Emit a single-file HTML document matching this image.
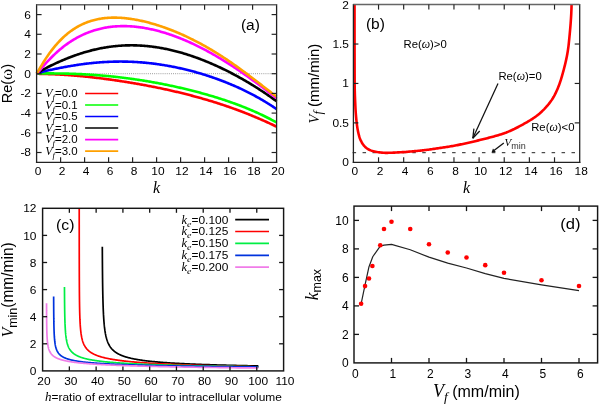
<!DOCTYPE html>
<html><head><meta charset="utf-8"><style>
html,body{margin:0;padding:0;background:#fff;width:599px;height:404px;overflow:hidden;font-family:"Liberation Sans",sans-serif;}
svg{display:block;will-change:transform;}
</style></head><body>
<svg width="599" height="404" viewBox="0 0 599 404">
<rect width="599" height="404" fill="#fff"/>
<line x1="36.6" y1="73.7" x2="276.6" y2="73.7" stroke="#777" stroke-width="0.8" stroke-dasharray="0.9 1.2"/>
<path d="M36.6,73.7 L37.6,73.79 L38.6,73.82 L39.6,73.84 L40.6,73.87 L41.6,73.89 L42.6,73.91 L43.6,73.93 L44.6,73.96 L45.6,73.99 L46.6,74.01 L47.6,74.04 L48.6,74.08 L49.6,74.11 L50.6,74.15 L51.6,74.18 L52.6,74.22 L53.6,74.27 L54.6,74.31 L55.6,74.36 L56.6,74.4 L57.6,74.46 L58.6,74.51 L59.6,74.56 L60.6,74.62 L61.6,74.68 L62.6,74.74 L63.6,74.8 L64.6,74.86 L65.6,74.93 L66.6,75 L67.6,75.07 L68.6,75.14 L69.6,75.21 L70.6,75.29 L71.6,75.36 L72.6,75.44 L73.6,75.52 L74.6,75.61 L75.6,75.69 L76.6,75.78 L77.6,75.86 L78.6,75.95 L79.6,76.05 L80.6,76.14 L81.6,76.23 L82.6,76.33 L83.6,76.43 L84.6,76.53 L85.6,76.63 L86.6,76.73 L87.6,76.83 L88.6,76.94 L89.6,77.05 L90.6,77.16 L91.6,77.27 L92.6,77.38 L93.6,77.49 L94.6,77.61 L95.6,77.72 L96.6,77.84 L97.6,77.96 L98.6,78.08 L99.6,78.2 L100.6,78.33 L101.6,78.45 L102.6,78.58 L103.6,78.71 L104.6,78.84 L105.6,78.97 L106.6,79.1 L107.6,79.24 L108.6,79.37 L109.6,79.51 L110.6,79.64 L111.6,79.78 L112.6,79.92 L113.6,80.07 L114.6,80.21 L115.6,80.36 L116.6,80.5 L117.6,80.65 L118.6,80.8 L119.6,80.95 L120.6,81.1 L121.6,81.25 L122.6,81.41 L123.6,81.56 L124.6,81.72 L125.6,81.88 L126.6,82.04 L127.6,82.2 L128.6,82.36 L129.6,82.53 L130.6,82.69 L131.6,82.86 L132.6,83.03 L133.6,83.2 L134.6,83.37 L135.6,83.54 L136.6,83.71 L137.6,83.89 L138.6,84.06 L139.6,84.24 L140.6,84.42 L141.6,84.6 L142.6,84.78 L143.6,84.97 L144.6,85.15 L145.6,85.34 L146.6,85.53 L147.6,85.72 L148.6,85.91 L149.6,86.1 L150.6,86.29 L151.6,86.49 L152.6,86.68 L153.6,86.88 L154.6,87.08 L155.6,87.28 L156.6,87.49 L157.6,87.69 L158.6,87.9 L159.6,88.1 L160.6,88.31 L161.6,88.52 L162.6,88.73 L163.6,88.95 L164.6,89.16 L165.6,89.38 L166.6,89.6 L167.6,89.82 L168.6,90.04 L169.6,90.26 L170.6,90.49 L171.6,90.71 L172.6,90.94 L173.6,91.17 L174.6,91.4 L175.6,91.64 L176.6,91.87 L177.6,92.11 L178.6,92.35 L179.6,92.59 L180.6,92.83 L181.6,93.07 L182.6,93.32 L183.6,93.57 L184.6,93.82 L185.6,94.07 L186.6,94.32 L187.6,94.58 L188.6,94.83 L189.6,95.09 L190.6,95.35 L191.6,95.62 L192.6,95.88 L193.6,96.15 L194.6,96.42 L195.6,96.69 L196.6,96.96 L197.6,97.23 L198.6,97.51 L199.6,97.79 L200.6,98.07 L201.6,98.35 L202.6,98.64 L203.6,98.92 L204.6,99.21 L205.6,99.51 L206.6,99.8 L207.6,100.1 L208.6,100.39 L209.6,100.69 L210.6,101 L211.6,101.3 L212.6,101.61 L213.6,101.92 L214.6,102.23 L215.6,102.54 L216.6,102.86 L217.6,103.18 L218.6,103.5 L219.6,103.82 L220.6,104.15 L221.6,104.47 L222.6,104.81 L223.6,105.14 L224.6,105.47 L225.6,105.81 L226.6,106.15 L227.6,106.49 L228.6,106.84 L229.6,107.19 L230.6,107.54 L231.6,107.89 L232.6,108.25 L233.6,108.61 L234.6,108.97 L235.6,109.33 L236.6,109.7 L237.6,110.06 L238.6,110.44 L239.6,110.81 L240.6,111.19 L241.6,111.57 L242.6,111.95 L243.6,112.33 L244.6,112.72 L245.6,113.11 L246.6,113.51 L247.6,113.9 L248.6,114.3 L249.6,114.7 L250.6,115.11 L251.6,115.52 L252.6,115.93 L253.6,116.34 L254.6,116.76 L255.6,117.18 L256.6,117.6 L257.6,118.03 L258.6,118.45 L259.6,118.88 L260.6,119.32 L261.6,119.76 L262.6,120.2 L263.6,120.64 L264.6,121.09 L265.6,121.54 L266.6,121.99 L267.6,122.45 L268.6,122.9 L269.6,123.37 L270.6,123.83 L271.6,124.3 L272.6,124.77 L273.6,125.25 L274.6,125.72 L275.6,126.21 L276.6,126.69" fill="none" stroke="red" stroke-width="2.6" stroke-linejoin="round"/>
<path d="M36.6,73.7 L37.6,73.58 L38.6,73.54 L39.6,73.51 L40.6,73.48 L41.6,73.47 L42.6,73.45 L43.6,73.44 L44.6,73.43 L45.6,73.42 L46.6,73.42 L47.6,73.41 L48.6,73.41 L49.6,73.41 L50.6,73.41 L51.6,73.41 L52.6,73.42 L53.6,73.42 L54.6,73.43 L55.6,73.44 L56.6,73.45 L57.6,73.46 L58.6,73.47 L59.6,73.48 L60.6,73.5 L61.6,73.51 L62.6,73.53 L63.6,73.55 L64.6,73.57 L65.6,73.6 L66.6,73.62 L67.6,73.65 L68.6,73.67 L69.6,73.7 L70.6,73.73 L71.6,73.76 L72.6,73.8 L73.6,73.83 L74.6,73.87 L75.6,73.91 L76.6,73.95 L77.6,73.99 L78.6,74.03 L79.6,74.08 L80.6,74.12 L81.6,74.17 L82.6,74.22 L83.6,74.27 L84.6,74.33 L85.6,74.38 L86.6,74.44 L87.6,74.5 L88.6,74.56 L89.6,74.62 L90.6,74.68 L91.6,74.75 L92.6,74.81 L93.6,74.88 L94.6,74.95 L95.6,75.03 L96.6,75.1 L97.6,75.18 L98.6,75.25 L99.6,75.33 L100.6,75.42 L101.6,75.5 L102.6,75.58 L103.6,75.67 L104.6,75.76 L105.6,75.85 L106.6,75.94 L107.6,76.04 L108.6,76.13 L109.6,76.23 L110.6,76.33 L111.6,76.43 L112.6,76.53 L113.6,76.64 L114.6,76.75 L115.6,76.86 L116.6,76.97 L117.6,77.08 L118.6,77.19 L119.6,77.31 L120.6,77.43 L121.6,77.55 L122.6,77.67 L123.6,77.79 L124.6,77.92 L125.6,78.04 L126.6,78.17 L127.6,78.3 L128.6,78.44 L129.6,78.57 L130.6,78.71 L131.6,78.85 L132.6,78.99 L133.6,79.13 L134.6,79.27 L135.6,79.42 L136.6,79.56 L137.6,79.71 L138.6,79.87 L139.6,80.02 L140.6,80.17 L141.6,80.33 L142.6,80.49 L143.6,80.65 L144.6,80.81 L145.6,80.97 L146.6,81.14 L147.6,81.31 L148.6,81.48 L149.6,81.65 L150.6,81.82 L151.6,82 L152.6,82.17 L153.6,82.35 L154.6,82.53 L155.6,82.71 L156.6,82.9 L157.6,83.08 L158.6,83.27 L159.6,83.46 L160.6,83.65 L161.6,83.85 L162.6,84.04 L163.6,84.24 L164.6,84.44 L165.6,84.64 L166.6,84.84 L167.6,85.04 L168.6,85.25 L169.6,85.46 L170.6,85.67 L171.6,85.88 L172.6,86.09 L173.6,86.31 L174.6,86.53 L175.6,86.75 L176.6,86.97 L177.6,87.19 L178.6,87.42 L179.6,87.64 L180.6,87.87 L181.6,88.1 L182.6,88.34 L183.6,88.57 L184.6,88.81 L185.6,89.05 L186.6,89.29 L187.6,89.53 L188.6,89.78 L189.6,90.02 L190.6,90.27 L191.6,90.53 L192.6,90.78 L193.6,91.03 L194.6,91.29 L195.6,91.55 L196.6,91.81 L197.6,92.08 L198.6,92.34 L199.6,92.61 L200.6,92.88 L201.6,93.16 L202.6,93.43 L203.6,93.71 L204.6,93.99 L205.6,94.27 L206.6,94.55 L207.6,94.84 L208.6,95.13 L209.6,95.42 L210.6,95.72 L211.6,96.01 L212.6,96.31 L213.6,96.61 L214.6,96.92 L215.6,97.22 L216.6,97.53 L217.6,97.84 L218.6,98.16 L219.6,98.48 L220.6,98.8 L221.6,99.12 L222.6,99.44 L223.6,99.77 L224.6,100.1 L225.6,100.44 L226.6,100.78 L227.6,101.12 L228.6,101.46 L229.6,101.8 L230.6,102.15 L231.6,102.51 L232.6,102.86 L233.6,103.22 L234.6,103.58 L235.6,103.95 L236.6,104.32 L237.6,104.69 L238.6,105.07 L239.6,105.44 L240.6,105.83 L241.6,106.21 L242.6,106.6 L243.6,107 L244.6,107.39 L245.6,107.8 L246.6,108.2 L247.6,108.61 L248.6,109.02 L249.6,109.44 L250.6,109.86 L251.6,110.29 L252.6,110.72 L253.6,111.15 L254.6,111.59 L255.6,112.03 L256.6,112.48 L257.6,112.93 L258.6,113.39 L259.6,113.85 L260.6,114.32 L261.6,114.79 L262.6,115.26 L263.6,115.74 L264.6,116.23 L265.6,116.72 L266.6,117.22 L267.6,117.72 L268.6,118.22 L269.6,118.74 L270.6,119.25 L271.6,119.78 L272.6,120.31 L273.6,120.84 L274.6,121.38 L275.6,121.93 L276.6,122.48" fill="none" stroke="#00ff00" stroke-width="2.6" stroke-linejoin="round"/>
<path d="M36.6,73.7 L37.6,73.15 L38.6,72.82 L39.6,72.53 L40.6,72.25 L41.6,71.99 L42.6,71.74 L43.6,71.49 L44.6,71.25 L45.6,71.01 L46.6,70.78 L47.6,70.55 L48.6,70.32 L49.6,70.1 L50.6,69.88 L51.6,69.66 L52.6,69.44 L53.6,69.23 L54.6,69.02 L55.6,68.81 L56.6,68.61 L57.6,68.4 L58.6,68.2 L59.6,68 L60.6,67.81 L61.6,67.62 L62.6,67.42 L63.6,67.24 L64.6,67.05 L65.6,66.87 L66.6,66.69 L67.6,66.51 L68.6,66.33 L69.6,66.16 L70.6,65.99 L71.6,65.82 L72.6,65.66 L73.6,65.49 L74.6,65.34 L75.6,65.18 L76.6,65.03 L77.6,64.88 L78.6,64.73 L79.6,64.58 L80.6,64.44 L81.6,64.3 L82.6,64.17 L83.6,64.04 L84.6,63.91 L85.6,63.78 L86.6,63.66 L87.6,63.54 L88.6,63.43 L89.6,63.31 L90.6,63.2 L91.6,63.1 L92.6,63 L93.6,62.9 L94.6,62.8 L95.6,62.71 L96.6,62.62 L97.6,62.54 L98.6,62.45 L99.6,62.38 L100.6,62.3 L101.6,62.23 L102.6,62.16 L103.6,62.1 L104.6,62.04 L105.6,61.98 L106.6,61.93 L107.6,61.88 L108.6,61.83 L109.6,61.79 L110.6,61.75 L111.6,61.72 L112.6,61.69 L113.6,61.66 L114.6,61.63 L115.6,61.61 L116.6,61.6 L117.6,61.59 L118.6,61.58 L119.6,61.57 L120.6,61.57 L121.6,61.57 L122.6,61.58 L123.6,61.59 L124.6,61.6 L125.6,61.62 L126.6,61.64 L127.6,61.67 L128.6,61.7 L129.6,61.73 L130.6,61.77 L131.6,61.81 L132.6,61.85 L133.6,61.9 L134.6,61.95 L135.6,62.01 L136.6,62.07 L137.6,62.13 L138.6,62.19 L139.6,62.27 L140.6,62.34 L141.6,62.42 L142.6,62.5 L143.6,62.59 L144.6,62.67 L145.6,62.77 L146.6,62.86 L147.6,62.97 L148.6,63.07 L149.6,63.18 L150.6,63.29 L151.6,63.41 L152.6,63.52 L153.6,63.65 L154.6,63.77 L155.6,63.91 L156.6,64.04 L157.6,64.18 L158.6,64.32 L159.6,64.46 L160.6,64.61 L161.6,64.77 L162.6,64.92 L163.6,65.08 L164.6,65.25 L165.6,65.41 L166.6,65.58 L167.6,65.76 L168.6,65.94 L169.6,66.12 L170.6,66.31 L171.6,66.49 L172.6,66.69 L173.6,66.88 L174.6,67.08 L175.6,67.29 L176.6,67.5 L177.6,67.71 L178.6,67.92 L179.6,68.14 L180.6,68.36 L181.6,68.59 L182.6,68.82 L183.6,69.05 L184.6,69.29 L185.6,69.53 L186.6,69.77 L187.6,70.02 L188.6,70.27 L189.6,70.53 L190.6,70.78 L191.6,71.05 L192.6,71.31 L193.6,71.58 L194.6,71.86 L195.6,72.13 L196.6,72.41 L197.6,72.7 L198.6,72.99 L199.6,73.28 L200.6,73.57 L201.6,73.87 L202.6,74.18 L203.6,74.48 L204.6,74.79 L205.6,75.11 L206.6,75.43 L207.6,75.75 L208.6,76.07 L209.6,76.4 L210.6,76.74 L211.6,77.08 L212.6,77.42 L213.6,77.76 L214.6,78.11 L215.6,78.46 L216.6,78.82 L217.6,79.18 L218.6,79.55 L219.6,79.92 L220.6,80.29 L221.6,80.67 L222.6,81.05 L223.6,81.44 L224.6,81.83 L225.6,82.22 L226.6,82.62 L227.6,83.02 L228.6,83.43 L229.6,83.84 L230.6,84.26 L231.6,84.68 L232.6,85.11 L233.6,85.54 L234.6,85.97 L235.6,86.41 L236.6,86.85 L237.6,87.3 L238.6,87.76 L239.6,88.21 L240.6,88.68 L241.6,89.14 L242.6,89.62 L243.6,90.09 L244.6,90.58 L245.6,91.07 L246.6,91.56 L247.6,92.06 L248.6,92.56 L249.6,93.07 L250.6,93.59 L251.6,94.11 L252.6,94.63 L253.6,95.16 L254.6,95.7 L255.6,96.24 L256.6,96.79 L257.6,97.35 L258.6,97.91 L259.6,98.47 L260.6,99.05 L261.6,99.63 L262.6,100.21 L263.6,100.8 L264.6,101.4 L265.6,102.01 L266.6,102.62 L267.6,103.24 L268.6,103.86 L269.6,104.5 L270.6,105.14 L271.6,105.78 L272.6,106.44 L273.6,107.1 L274.6,107.77 L275.6,108.44 L276.6,109.12" fill="none" stroke="blue" stroke-width="2.6" stroke-linejoin="round"/>
<path d="M36.6,73.7 L37.6,72.84 L38.6,72.2 L39.6,71.6 L40.6,71.02 L41.6,70.46 L42.6,69.91 L43.6,69.37 L44.6,68.83 L45.6,68.31 L46.6,67.79 L47.6,67.28 L48.6,66.77 L49.6,66.27 L50.6,65.77 L51.6,65.29 L52.6,64.8 L53.6,64.33 L54.6,63.85 L55.6,63.39 L56.6,62.93 L57.6,62.47 L58.6,62.02 L59.6,61.58 L60.6,61.14 L61.6,60.7 L62.6,60.27 L63.6,59.85 L64.6,59.43 L65.6,59.02 L66.6,58.62 L67.6,58.22 L68.6,57.82 L69.6,57.43 L70.6,57.05 L71.6,56.67 L72.6,56.3 L73.6,55.93 L74.6,55.57 L75.6,55.22 L76.6,54.87 L77.6,54.53 L78.6,54.19 L79.6,53.86 L80.6,53.53 L81.6,53.22 L82.6,52.9 L83.6,52.6 L84.6,52.3 L85.6,52 L86.6,51.71 L87.6,51.43 L88.6,51.16 L89.6,50.89 L90.6,50.62 L91.6,50.37 L92.6,50.11 L93.6,49.87 L94.6,49.63 L95.6,49.4 L96.6,49.17 L97.6,48.96 L98.6,48.74 L99.6,48.54 L100.6,48.34 L101.6,48.14 L102.6,47.96 L103.6,47.77 L104.6,47.6 L105.6,47.43 L106.6,47.27 L107.6,47.12 L108.6,46.97 L109.6,46.83 L110.6,46.69 L111.6,46.56 L112.6,46.44 L113.6,46.32 L114.6,46.21 L115.6,46.11 L116.6,46.01 L117.6,45.92 L118.6,45.83 L119.6,45.76 L120.6,45.69 L121.6,45.62 L122.6,45.56 L123.6,45.51 L124.6,45.46 L125.6,45.42 L126.6,45.39 L127.6,45.36 L128.6,45.34 L129.6,45.33 L130.6,45.32 L131.6,45.32 L132.6,45.32 L133.6,45.34 L134.6,45.35 L135.6,45.38 L136.6,45.41 L137.6,45.44 L138.6,45.48 L139.6,45.53 L140.6,45.59 L141.6,45.65 L142.6,45.71 L143.6,45.79 L144.6,45.87 L145.6,45.95 L146.6,46.04 L147.6,46.14 L148.6,46.24 L149.6,46.35 L150.6,46.46 L151.6,46.58 L152.6,46.71 L153.6,46.84 L154.6,46.98 L155.6,47.13 L156.6,47.28 L157.6,47.43 L158.6,47.59 L159.6,47.76 L160.6,47.93 L161.6,48.11 L162.6,48.29 L163.6,48.48 L164.6,48.68 L165.6,48.88 L166.6,49.09 L167.6,49.3 L168.6,49.52 L169.6,49.74 L170.6,49.97 L171.6,50.2 L172.6,50.44 L173.6,50.68 L174.6,50.93 L175.6,51.19 L176.6,51.45 L177.6,51.71 L178.6,51.99 L179.6,52.26 L180.6,52.54 L181.6,52.83 L182.6,53.12 L183.6,53.42 L184.6,53.72 L185.6,54.03 L186.6,54.34 L187.6,54.65 L188.6,54.98 L189.6,55.3 L190.6,55.63 L191.6,55.97 L192.6,56.31 L193.6,56.66 L194.6,57.01 L195.6,57.37 L196.6,57.73 L197.6,58.09 L198.6,58.46 L199.6,58.84 L200.6,59.22 L201.6,59.6 L202.6,59.99 L203.6,60.38 L204.6,60.78 L205.6,61.18 L206.6,61.59 L207.6,62 L208.6,62.42 L209.6,62.84 L210.6,63.27 L211.6,63.7 L212.6,64.13 L213.6,64.57 L214.6,65.02 L215.6,65.46 L216.6,65.92 L217.6,66.37 L218.6,66.84 L219.6,67.3 L220.6,67.77 L221.6,68.25 L222.6,68.73 L223.6,69.21 L224.6,69.7 L225.6,70.19 L226.6,70.69 L227.6,71.19 L228.6,71.69 L229.6,72.2 L230.6,72.72 L231.6,73.24 L232.6,73.76 L233.6,74.29 L234.6,74.82 L235.6,75.36 L236.6,75.9 L237.6,76.44 L238.6,76.99 L239.6,77.54 L240.6,78.1 L241.6,78.67 L242.6,79.23 L243.6,79.8 L244.6,80.38 L245.6,80.96 L246.6,81.54 L247.6,82.13 L248.6,82.73 L249.6,83.33 L250.6,83.93 L251.6,84.54 L252.6,85.15 L253.6,85.77 L254.6,86.39 L255.6,87.01 L256.6,87.64 L257.6,88.28 L258.6,88.92 L259.6,89.57 L260.6,90.22 L261.6,90.87 L262.6,91.53 L263.6,92.19 L264.6,92.86 L265.6,93.54 L266.6,94.22 L267.6,94.9 L268.6,95.59 L269.6,96.29 L270.6,96.99 L271.6,97.69 L272.6,98.4 L273.6,99.12 L274.6,99.84 L275.6,100.57 L276.6,101.3" fill="none" stroke="black" stroke-width="2.6" stroke-linejoin="round"/>
<path d="M36.6,73.7 L37.6,72.9 L38.6,71.75 L39.6,70.57 L40.6,69.38 L41.6,68.2 L42.6,67.02 L43.6,65.87 L44.6,64.72 L45.6,63.6 L46.6,62.49 L47.6,61.4 L48.6,60.33 L49.6,59.28 L50.6,58.25 L51.6,57.24 L52.6,56.24 L53.6,55.27 L54.6,54.32 L55.6,53.38 L56.6,52.47 L57.6,51.57 L58.6,50.7 L59.6,49.84 L60.6,49 L61.6,48.18 L62.6,47.38 L63.6,46.59 L64.6,45.83 L65.6,45.08 L66.6,44.35 L67.6,43.63 L68.6,42.94 L69.6,42.26 L70.6,41.6 L71.6,40.95 L72.6,40.32 L73.6,39.71 L74.6,39.11 L75.6,38.53 L76.6,37.97 L77.6,37.42 L78.6,36.88 L79.6,36.36 L80.6,35.86 L81.6,35.37 L82.6,34.89 L83.6,34.43 L84.6,33.99 L85.6,33.56 L86.6,33.14 L87.6,32.74 L88.6,32.34 L89.6,31.97 L90.6,31.6 L91.6,31.25 L92.6,30.92 L93.6,30.59 L94.6,30.28 L95.6,29.98 L96.6,29.69 L97.6,29.42 L98.6,29.15 L99.6,28.9 L100.6,28.66 L101.6,28.44 L102.6,28.22 L103.6,28.02 L104.6,27.82 L105.6,27.64 L106.6,27.47 L107.6,27.31 L108.6,27.16 L109.6,27.02 L110.6,26.89 L111.6,26.77 L112.6,26.66 L113.6,26.56 L114.6,26.48 L115.6,26.4 L116.6,26.33 L117.6,26.27 L118.6,26.22 L119.6,26.18 L120.6,26.15 L121.6,26.13 L122.6,26.12 L123.6,26.12 L124.6,26.12 L125.6,26.14 L126.6,26.16 L127.6,26.19 L128.6,26.23 L129.6,26.28 L130.6,26.34 L131.6,26.41 L132.6,26.48 L133.6,26.57 L134.6,26.66 L135.6,26.76 L136.6,26.86 L137.6,26.98 L138.6,27.1 L139.6,27.23 L140.6,27.37 L141.6,27.51 L142.6,27.66 L143.6,27.83 L144.6,27.99 L145.6,28.17 L146.6,28.35 L147.6,28.54 L148.6,28.74 L149.6,28.94 L150.6,29.15 L151.6,29.37 L152.6,29.59 L153.6,29.82 L154.6,30.06 L155.6,30.31 L156.6,30.56 L157.6,30.82 L158.6,31.08 L159.6,31.35 L160.6,31.63 L161.6,31.91 L162.6,32.2 L163.6,32.5 L164.6,32.8 L165.6,33.11 L166.6,33.43 L167.6,33.75 L168.6,34.08 L169.6,34.41 L170.6,34.75 L171.6,35.1 L172.6,35.45 L173.6,35.8 L174.6,36.17 L175.6,36.54 L176.6,36.91 L177.6,37.29 L178.6,37.68 L179.6,38.07 L180.6,38.47 L181.6,38.88 L182.6,39.28 L183.6,39.7 L184.6,40.12 L185.6,40.55 L186.6,40.98 L187.6,41.41 L188.6,41.86 L189.6,42.3 L190.6,42.76 L191.6,43.22 L192.6,43.68 L193.6,44.15 L194.6,44.62 L195.6,45.1 L196.6,45.59 L197.6,46.08 L198.6,46.57 L199.6,47.07 L200.6,47.58 L201.6,48.09 L202.6,48.6 L203.6,49.12 L204.6,49.65 L205.6,50.18 L206.6,50.71 L207.6,51.25 L208.6,51.8 L209.6,52.35 L210.6,52.9 L211.6,53.46 L212.6,54.03 L213.6,54.6 L214.6,55.17 L215.6,55.75 L216.6,56.33 L217.6,56.92 L218.6,57.51 L219.6,58.11 L220.6,58.71 L221.6,59.31 L222.6,59.92 L223.6,60.54 L224.6,61.16 L225.6,61.78 L226.6,62.41 L227.6,63.04 L228.6,63.67 L229.6,64.31 L230.6,64.96 L231.6,65.61 L232.6,66.26 L233.6,66.92 L234.6,67.58 L235.6,68.24 L236.6,68.91 L237.6,69.58 L238.6,70.26 L239.6,70.94 L240.6,71.62 L241.6,72.31 L242.6,73 L243.6,73.7 L244.6,74.4 L245.6,75.1 L246.6,75.8 L247.6,76.51 L248.6,77.23 L249.6,77.94 L250.6,78.66 L251.6,79.39 L252.6,80.11 L253.6,80.84 L254.6,81.57 L255.6,82.31 L256.6,83.05 L257.6,83.79 L258.6,84.53 L259.6,85.28 L260.6,86.03 L261.6,86.78 L262.6,87.53 L263.6,88.29 L264.6,89.05 L265.6,89.81 L266.6,90.58 L267.6,91.34 L268.6,92.11 L269.6,92.88 L270.6,93.66 L271.6,94.43 L272.6,95.21 L273.6,95.99 L274.6,96.77 L275.6,97.55 L276.6,98.33" fill="none" stroke="magenta" stroke-width="2.6" stroke-linejoin="round"/>
<path d="M36.6,73.7 L37.6,72.21 L38.6,70.47 L39.6,68.73 L40.6,67.01 L41.6,65.32 L42.6,63.66 L43.6,62.04 L44.6,60.45 L45.6,58.91 L46.6,57.4 L47.6,55.92 L48.6,54.49 L49.6,53.09 L50.6,51.72 L51.6,50.4 L52.6,49.1 L53.6,47.85 L54.6,46.62 L55.6,45.43 L56.6,44.28 L57.6,43.15 L58.6,42.06 L59.6,41 L60.6,39.98 L61.6,38.98 L62.6,38.01 L63.6,37.07 L64.6,36.16 L65.6,35.28 L66.6,34.43 L67.6,33.6 L68.6,32.81 L69.6,32.03 L70.6,31.29 L71.6,30.56 L72.6,29.87 L73.6,29.2 L74.6,28.55 L75.6,27.92 L76.6,27.32 L77.6,26.74 L78.6,26.19 L79.6,25.65 L80.6,25.14 L81.6,24.64 L82.6,24.17 L83.6,23.72 L84.6,23.28 L85.6,22.87 L86.6,22.47 L87.6,22.09 L88.6,21.74 L89.6,21.39 L90.6,21.07 L91.6,20.76 L92.6,20.47 L93.6,20.2 L94.6,19.94 L95.6,19.69 L96.6,19.46 L97.6,19.25 L98.6,19.05 L99.6,18.87 L100.6,18.7 L101.6,18.54 L102.6,18.4 L103.6,18.27 L104.6,18.15 L105.6,18.04 L106.6,17.95 L107.6,17.87 L108.6,17.8 L109.6,17.75 L110.6,17.7 L111.6,17.67 L112.6,17.64 L113.6,17.63 L114.6,17.63 L115.6,17.64 L116.6,17.65 L117.6,17.68 L118.6,17.72 L119.6,17.77 L120.6,17.82 L121.6,17.89 L122.6,17.96 L123.6,18.05 L124.6,18.14 L125.6,18.24 L126.6,18.35 L127.6,18.47 L128.6,18.59 L129.6,18.72 L130.6,18.86 L131.6,19.01 L132.6,19.17 L133.6,19.33 L134.6,19.5 L135.6,19.68 L136.6,19.87 L137.6,20.06 L138.6,20.26 L139.6,20.46 L140.6,20.67 L141.6,20.89 L142.6,21.12 L143.6,21.35 L144.6,21.59 L145.6,21.83 L146.6,22.08 L147.6,22.34 L148.6,22.6 L149.6,22.87 L150.6,23.14 L151.6,23.42 L152.6,23.71 L153.6,24 L154.6,24.3 L155.6,24.6 L156.6,24.91 L157.6,25.22 L158.6,25.54 L159.6,25.87 L160.6,26.2 L161.6,26.53 L162.6,26.88 L163.6,27.22 L164.6,27.57 L165.6,27.93 L166.6,28.29 L167.6,28.66 L168.6,29.04 L169.6,29.41 L170.6,29.8 L171.6,30.19 L172.6,30.58 L173.6,30.98 L174.6,31.38 L175.6,31.79 L176.6,32.21 L177.6,32.63 L178.6,33.05 L179.6,33.48 L180.6,33.92 L181.6,34.36 L182.6,34.81 L183.6,35.26 L184.6,35.71 L185.6,36.17 L186.6,36.64 L187.6,37.11 L188.6,37.59 L189.6,38.07 L190.6,38.55 L191.6,39.05 L192.6,39.54 L193.6,40.05 L194.6,40.55 L195.6,41.06 L196.6,41.58 L197.6,42.1 L198.6,42.63 L199.6,43.16 L200.6,43.7 L201.6,44.25 L202.6,44.79 L203.6,45.35 L204.6,45.9 L205.6,46.47 L206.6,47.04 L207.6,47.61 L208.6,48.19 L209.6,48.77 L210.6,49.36 L211.6,49.96 L212.6,50.55 L213.6,51.16 L214.6,51.77 L215.6,52.38 L216.6,53 L217.6,53.62 L218.6,54.25 L219.6,54.88 L220.6,55.52 L221.6,56.17 L222.6,56.81 L223.6,57.47 L224.6,58.12 L225.6,58.79 L226.6,59.45 L227.6,60.12 L228.6,60.8 L229.6,61.48 L230.6,62.16 L231.6,62.85 L232.6,63.55 L233.6,64.24 L234.6,64.94 L235.6,65.65 L236.6,66.36 L237.6,67.07 L238.6,67.79 L239.6,68.51 L240.6,69.24 L241.6,69.97 L242.6,70.7 L243.6,71.44 L244.6,72.17 L245.6,72.92 L246.6,73.66 L247.6,74.41 L248.6,75.16 L249.6,75.92 L250.6,76.67 L251.6,77.43 L252.6,78.19 L253.6,78.96 L254.6,79.72 L255.6,80.49 L256.6,81.26 L257.6,82.03 L258.6,82.81 L259.6,83.58 L260.6,84.36 L261.6,85.13 L262.6,85.91 L263.6,86.69 L264.6,87.47 L265.6,88.25 L266.6,89.03 L267.6,89.8 L268.6,90.58 L269.6,91.36 L270.6,92.14 L271.6,92.91 L272.6,93.69 L273.6,94.46 L274.6,95.23 L275.6,96 L276.6,96.77" fill="none" stroke="#ffa000" stroke-width="2.6" stroke-linejoin="round"/>
<line x1="36.6" y1="162.35" x2="276.6" y2="162.35" stroke="#222" stroke-width="1.3" stroke-linecap="square"/>
<line x1="36.6" y1="4.75" x2="36.6" y2="162.35" stroke="#222" stroke-width="1.3" stroke-linecap="square"/>
<line x1="276.6" y1="4.75" x2="276.6" y2="162.35" stroke="#222" stroke-width="1.3" stroke-linecap="square"/>
<line x1="36.6" y1="4.75" x2="276.6" y2="4.75" stroke="#666" stroke-width="1.5" />
<line x1="60.6" y1="162.35" x2="60.6" y2="157.35" stroke="#222" stroke-width="1.1700000000000002" />
<line x1="60.6" y1="4.75" x2="60.6" y2="9.75" stroke="#222" stroke-width="1.1700000000000002" />
<line x1="84.6" y1="162.35" x2="84.6" y2="157.35" stroke="#222" stroke-width="1.1700000000000002" />
<line x1="84.6" y1="4.75" x2="84.6" y2="9.75" stroke="#222" stroke-width="1.1700000000000002" />
<line x1="108.6" y1="162.35" x2="108.6" y2="157.35" stroke="#222" stroke-width="1.1700000000000002" />
<line x1="108.6" y1="4.75" x2="108.6" y2="9.75" stroke="#222" stroke-width="1.1700000000000002" />
<line x1="132.6" y1="162.35" x2="132.6" y2="157.35" stroke="#222" stroke-width="1.1700000000000002" />
<line x1="132.6" y1="4.75" x2="132.6" y2="9.75" stroke="#222" stroke-width="1.1700000000000002" />
<line x1="156.6" y1="162.35" x2="156.6" y2="157.35" stroke="#222" stroke-width="1.1700000000000002" />
<line x1="156.6" y1="4.75" x2="156.6" y2="9.75" stroke="#222" stroke-width="1.1700000000000002" />
<line x1="180.6" y1="162.35" x2="180.6" y2="157.35" stroke="#222" stroke-width="1.1700000000000002" />
<line x1="180.6" y1="4.75" x2="180.6" y2="9.75" stroke="#222" stroke-width="1.1700000000000002" />
<line x1="204.6" y1="162.35" x2="204.6" y2="157.35" stroke="#222" stroke-width="1.1700000000000002" />
<line x1="204.6" y1="4.75" x2="204.6" y2="9.75" stroke="#222" stroke-width="1.1700000000000002" />
<line x1="228.6" y1="162.35" x2="228.6" y2="157.35" stroke="#222" stroke-width="1.1700000000000002" />
<line x1="228.6" y1="4.75" x2="228.6" y2="9.75" stroke="#222" stroke-width="1.1700000000000002" />
<line x1="252.6" y1="162.35" x2="252.6" y2="157.35" stroke="#222" stroke-width="1.1700000000000002" />
<line x1="252.6" y1="4.75" x2="252.6" y2="9.75" stroke="#222" stroke-width="1.1700000000000002" />
<line x1="36.6" y1="152.5" x2="41.6" y2="152.5" stroke="#222" stroke-width="1.1700000000000002" />
<line x1="276.6" y1="152.5" x2="271.6" y2="152.5" stroke="#222" stroke-width="1.1700000000000002" />
<line x1="36.6" y1="132.8" x2="41.6" y2="132.8" stroke="#222" stroke-width="1.1700000000000002" />
<line x1="276.6" y1="132.8" x2="271.6" y2="132.8" stroke="#222" stroke-width="1.1700000000000002" />
<line x1="36.6" y1="113.1" x2="41.6" y2="113.1" stroke="#222" stroke-width="1.1700000000000002" />
<line x1="276.6" y1="113.1" x2="271.6" y2="113.1" stroke="#222" stroke-width="1.1700000000000002" />
<line x1="36.6" y1="93.4" x2="41.6" y2="93.4" stroke="#222" stroke-width="1.1700000000000002" />
<line x1="276.6" y1="93.4" x2="271.6" y2="93.4" stroke="#222" stroke-width="1.1700000000000002" />
<line x1="36.6" y1="73.7" x2="41.6" y2="73.7" stroke="#222" stroke-width="1.1700000000000002" />
<line x1="276.6" y1="73.7" x2="271.6" y2="73.7" stroke="#222" stroke-width="1.1700000000000002" />
<line x1="36.6" y1="54" x2="41.6" y2="54" stroke="#222" stroke-width="1.1700000000000002" />
<line x1="276.6" y1="54" x2="271.6" y2="54" stroke="#222" stroke-width="1.1700000000000002" />
<line x1="36.6" y1="34.3" x2="41.6" y2="34.3" stroke="#222" stroke-width="1.1700000000000002" />
<line x1="276.6" y1="34.3" x2="271.6" y2="34.3" stroke="#222" stroke-width="1.1700000000000002" />
<line x1="36.6" y1="14.6" x2="41.6" y2="14.6" stroke="#222" stroke-width="1.1700000000000002" />
<line x1="276.6" y1="14.6" x2="271.6" y2="14.6" stroke="#222" stroke-width="1.1700000000000002" />
<text transform="translate(38,175.3) scale(1.085,1)" font-size="11" text-anchor="middle" font-family='"Liberation Sans", sans-serif'>0</text>
<text transform="translate(62,175.3) scale(1.085,1)" font-size="11" text-anchor="middle" font-family='"Liberation Sans", sans-serif'>2</text>
<text transform="translate(86,175.3) scale(1.085,1)" font-size="11" text-anchor="middle" font-family='"Liberation Sans", sans-serif'>4</text>
<text transform="translate(110,175.3) scale(1.085,1)" font-size="11" text-anchor="middle" font-family='"Liberation Sans", sans-serif'>6</text>
<text transform="translate(134,175.3) scale(1.085,1)" font-size="11" text-anchor="middle" font-family='"Liberation Sans", sans-serif'>8</text>
<text transform="translate(158,175.3) scale(1.085,1)" font-size="11" text-anchor="middle" font-family='"Liberation Sans", sans-serif'>10</text>
<text transform="translate(182,175.3) scale(1.085,1)" font-size="11" text-anchor="middle" font-family='"Liberation Sans", sans-serif'>12</text>
<text transform="translate(206,175.3) scale(1.085,1)" font-size="11" text-anchor="middle" font-family='"Liberation Sans", sans-serif'>14</text>
<text transform="translate(230,175.3) scale(1.085,1)" font-size="11" text-anchor="middle" font-family='"Liberation Sans", sans-serif'>16</text>
<text transform="translate(254,175.3) scale(1.085,1)" font-size="11" text-anchor="middle" font-family='"Liberation Sans", sans-serif'>18</text>
<text transform="translate(278,175.3) scale(1.085,1)" font-size="11" text-anchor="middle" font-family='"Liberation Sans", sans-serif'>20</text>
<text transform="translate(31,156.4) scale(1.085,1)" font-size="11" text-anchor="end" font-family='"Liberation Sans", sans-serif'>-8</text>
<text transform="translate(31,136.7) scale(1.085,1)" font-size="11" text-anchor="end" font-family='"Liberation Sans", sans-serif'>-6</text>
<text transform="translate(31,117) scale(1.085,1)" font-size="11" text-anchor="end" font-family='"Liberation Sans", sans-serif'>-4</text>
<text transform="translate(31,97.3) scale(1.085,1)" font-size="11" text-anchor="end" font-family='"Liberation Sans", sans-serif'>-2</text>
<text transform="translate(31,77.6) scale(1.085,1)" font-size="11" text-anchor="end" font-family='"Liberation Sans", sans-serif'>0</text>
<text transform="translate(31,57.9) scale(1.085,1)" font-size="11" text-anchor="end" font-family='"Liberation Sans", sans-serif'>2</text>
<text transform="translate(31,38.2) scale(1.085,1)" font-size="11" text-anchor="end" font-family='"Liberation Sans", sans-serif'>4</text>
<text transform="translate(31,18.5) scale(1.085,1)" font-size="11" text-anchor="end" font-family='"Liberation Sans", sans-serif'>6</text>
<line x1="85.1" y1="93.5" x2="118.2" y2="93.5" stroke="red" stroke-width="1.6" />
<text transform="translate(45.2,97.4) scale(1.045,1)" font-size="11" text-anchor="start" font-family='"Liberation Sans", sans-serif'><tspan font-family='"Liberation Serif", serif' font-size="11.5" font-style="italic">V</tspan><tspan font-family='"Liberation Serif", serif' font-size="8.5" font-style="italic" dy="2.6">f</tspan><tspan dy="-2.6">=0.0</tspan></text>
<line x1="85.1" y1="105.02" x2="118.2" y2="105.02" stroke="#00ff00" stroke-width="1.6" />
<text transform="translate(45.2,108.92) scale(1.045,1)" font-size="11" text-anchor="start" font-family='"Liberation Sans", sans-serif'><tspan font-family='"Liberation Serif", serif' font-size="11.5" font-style="italic">V</tspan><tspan font-family='"Liberation Serif", serif' font-size="8.5" font-style="italic" dy="2.6">f</tspan><tspan dy="-2.6">=0.1</tspan></text>
<line x1="85.1" y1="116.54" x2="118.2" y2="116.54" stroke="blue" stroke-width="1.6" />
<text transform="translate(45.2,120.44) scale(1.045,1)" font-size="11" text-anchor="start" font-family='"Liberation Sans", sans-serif'><tspan font-family='"Liberation Serif", serif' font-size="11.5" font-style="italic">V</tspan><tspan font-family='"Liberation Serif", serif' font-size="8.5" font-style="italic" dy="2.6">f</tspan><tspan dy="-2.6">=0.5</tspan></text>
<line x1="85.1" y1="128.06" x2="118.2" y2="128.06" stroke="black" stroke-width="1.6" />
<text transform="translate(45.2,131.96) scale(1.045,1)" font-size="11" text-anchor="start" font-family='"Liberation Sans", sans-serif'><tspan font-family='"Liberation Serif", serif' font-size="11.5" font-style="italic">V</tspan><tspan font-family='"Liberation Serif", serif' font-size="8.5" font-style="italic" dy="2.6">f</tspan><tspan dy="-2.6">=1.0</tspan></text>
<line x1="85.1" y1="139.58" x2="118.2" y2="139.58" stroke="magenta" stroke-width="1.6" />
<text transform="translate(45.2,143.48) scale(1.045,1)" font-size="11" text-anchor="start" font-family='"Liberation Sans", sans-serif'><tspan font-family='"Liberation Serif", serif' font-size="11.5" font-style="italic">V</tspan><tspan font-family='"Liberation Serif", serif' font-size="8.5" font-style="italic" dy="2.6">f</tspan><tspan dy="-2.6">=2.0</tspan></text>
<line x1="85.1" y1="151.1" x2="118.2" y2="151.1" stroke="#ffa000" stroke-width="1.6" />
<text transform="translate(45.2,155) scale(1.045,1)" font-size="11" text-anchor="start" font-family='"Liberation Sans", sans-serif'><tspan font-family='"Liberation Serif", serif' font-size="11.5" font-style="italic">V</tspan><tspan font-family='"Liberation Serif", serif' font-size="8.5" font-style="italic" dy="2.6">f</tspan><tspan dy="-2.6">=3.0</tspan></text>
<text transform="translate(240.9,29.9) scale(1.085,1)" font-size="14.3" text-anchor="start" font-family='"Liberation Sans", sans-serif'>(a)</text>
<text transform="translate(156.6,193.4) scale(1.0,1)" font-size="16" text-anchor="middle" font-family='"Liberation Serif", serif' font-style="italic">k</text>
<text transform="translate(12.2,83.6) scale(1.0,1) rotate(-90)" font-size="14.5" text-anchor="middle" font-family='"Liberation Sans", sans-serif'>Re(<tspan font-family='"Liberation Serif", serif' font-size="17">ω</tspan>)</text>
<line x1="352.6" y1="152.7" x2="576" y2="152.7" stroke="#222" stroke-width="1" stroke-dasharray="3.5 6.45"/>
<clipPath id="cb"><rect x="353.4" y="4.6" width="226.3" height="157.7"/></clipPath>
<path clip-path="url(#cb)" d="M354.53,-0.13 L354.53,1 L354.53,2.14 L354.53,3.28 L354.53,4.41 L354.53,5.55 L354.53,6.68 L354.53,7.82 L354.53,8.95 L354.53,10.09 L354.53,11.23 L354.53,12.36 L354.53,13.5 L354.53,14.63 L354.53,15.77 L354.54,16.9 L354.54,18.04 L354.54,19.18 L354.54,20.31 L354.54,21.45 L354.54,22.58 L354.54,23.72 L354.54,24.85 L354.54,25.99 L354.54,27.12 L354.54,28.26 L354.54,29.39 L354.55,30.53 L354.55,31.67 L354.55,32.8 L354.55,33.94 L354.55,35.07 L354.55,36.21 L354.55,37.34 L354.55,38.48 L354.56,39.61 L354.56,40.75 L354.56,41.88 L354.56,43.02 L354.56,44.15 L354.56,45.29 L354.57,46.43 L354.57,47.56 L354.57,48.7 L354.57,49.83 L354.57,50.97 L354.57,52.1 L354.58,53.24 L354.58,54.37 L354.58,55.51 L354.58,56.64 L354.59,57.78 L354.59,58.91 L354.59,60.05 L354.59,61.18 L354.6,62.32 L354.6,63.45 L354.6,64.59 L354.6,65.72 L354.61,66.86 L354.61,67.99 L354.61,69.13 L354.62,70.26 L354.62,71.4 L354.62,72.53 L354.63,73.67 L354.63,74.8 L354.63,75.94 L354.64,77.07 L354.64,78.21 L354.64,79.34 L354.65,80.48 L354.65,81.61 L354.65,82.75 L354.66,83.88 L354.67,85.02 L354.68,86.15 L354.69,87.29 L354.71,88.43 L354.74,89.56 L354.77,90.7 L354.8,91.83 L354.83,92.97 L354.86,94.1 L354.9,95.24 L354.94,96.37 L354.99,97.51 L355.03,98.64 L355.08,99.78 L355.13,100.91 L355.18,102.05 L355.23,103.18 L355.28,104.31 L355.33,105.45 L355.39,106.58 L355.44,107.71 L355.5,108.85 L355.57,109.98 L355.64,111.12 L355.71,112.25 L355.8,113.39 L355.88,114.52 L355.98,115.65 L356.08,116.79 L356.18,117.92 L356.29,119.05 L356.4,120.18 L356.52,121.3 L356.65,122.43 L356.78,123.55 L356.92,124.68 L357.07,125.81 L357.23,126.94 L357.41,128.08 L357.6,129.21 L357.81,130.34 L358.03,131.47 L358.27,132.59 L358.53,133.69 L358.8,134.79 L359.09,135.87 L359.39,136.93 L359.73,137.99 L360.14,139.06 L360.6,140.13 L361.11,141.19 L361.67,142.22 L362.26,143.22 L362.89,144.18 L363.54,145.07 L364.22,145.9 L364.98,146.71 L365.83,147.5 L366.75,148.24 L367.72,148.92 L368.71,149.51 L369.71,149.99 L370.72,150.37 L371.78,150.73 L372.87,151.06 L373.98,151.36 L375.11,151.62 L376.25,151.85 L377.39,152.05 L378.51,152.2 L379.63,152.34 L380.76,152.48 L381.89,152.6 L383.03,152.7 L384.16,152.78 L385.3,152.83 L386.43,152.84 L387.56,152.83 L388.7,152.81 L389.83,152.78 L390.97,152.74 L392.1,152.7 L393.24,152.65 L394.37,152.59 L395.51,152.54 L396.64,152.47 L397.78,152.41 L398.91,152.35 L400.05,152.29 L401.18,152.23 L402.31,152.16 L403.44,152.09 L404.58,152.01 L405.71,151.93 L406.84,151.84 L407.97,151.75 L409.11,151.65 L410.24,151.56 L411.37,151.46 L412.5,151.36 L413.63,151.26 L414.76,151.16 L415.89,151.05 L417.02,150.94 L418.15,150.83 L419.28,150.71 L420.41,150.59 L421.54,150.47 L422.67,150.34 L423.8,150.21 L424.92,150.08 L426.05,149.95 L427.18,149.81 L428.3,149.67 L429.43,149.52 L430.55,149.37 L431.68,149.21 L432.8,149.05 L433.92,148.88 L435.05,148.72 L436.17,148.55 L437.29,148.38 L438.42,148.21 L439.54,148.04 L440.66,147.87 L441.79,147.7 L442.91,147.54 L444.03,147.37 L445.16,147.2 L446.28,147.03 L447.4,146.86 L448.52,146.69 L449.65,146.51 L450.77,146.33 L451.89,146.14 L453,145.95 L454.12,145.75 L455.23,145.54 L456.35,145.32 L457.46,145.1 L458.57,144.87 L459.68,144.63 L460.79,144.39 L461.9,144.15 L463.01,143.9 L464.12,143.66 L465.23,143.41 L466.34,143.16 L467.45,142.92 L468.56,142.67 L469.66,142.42 L470.77,142.18 L471.88,141.93 L472.99,141.67 L474.09,141.42 L475.2,141.16 L476.3,140.9 L477.41,140.63 L478.51,140.37 L479.61,140.09 L480.71,139.82 L481.82,139.54 L482.92,139.26 L484.02,138.99 L485.13,138.71 L486.23,138.43 L487.34,138.15 L488.44,137.87 L489.55,137.58 L490.65,137.3 L491.75,137.01 L492.85,136.71 L493.95,136.41 L495.05,136.11 L496.14,135.8 L497.23,135.48 L498.32,135.16 L499.41,134.83 L500.49,134.49 L501.56,134.14 L502.63,133.79 L503.7,133.42 L504.76,133.05 L505.82,132.67 L506.87,132.26 L507.92,131.84 L508.97,131.41 L510.01,130.96 L511.05,130.5 L512.09,130.03 L513.12,129.54 L514.15,129.05 L515.18,128.54 L516.2,128.03 L517.22,127.51 L518.23,126.98 L519.23,126.45 L520.24,125.92 L521.23,125.38 L522.22,124.83 L523.21,124.29 L524.2,123.73 L525.2,123.17 L526.2,122.61 L527.19,122.03 L528.18,121.45 L529.17,120.86 L530.16,120.26 L531.14,119.65 L532.1,119.04 L533.06,118.41 L534.01,117.77 L534.95,117.12 L535.87,116.46 L536.77,115.78 L537.66,115.1 L538.52,114.4 L539.37,113.69 L540.2,112.96 L541.03,112.21 L541.85,111.45 L542.67,110.66 L543.48,109.86 L544.29,109.04 L545.08,108.2 L545.87,107.35 L546.65,106.48 L547.41,105.6 L548.15,104.71 L548.88,103.81 L549.59,102.9 L550.28,101.98 L550.95,101.05 L551.6,100.12 L552.22,99.18 L552.82,98.23 L553.39,97.28 L553.94,96.33 L554.47,95.36 L554.98,94.37 L555.49,93.37 L555.99,92.35 L556.47,91.32 L556.94,90.28 L557.4,89.23 L557.84,88.17 L558.28,87.1 L558.7,86.03 L559.11,84.95 L559.5,83.87 L559.88,82.78 L560.25,81.7 L560.61,80.61 L560.95,79.53 L561.28,78.45 L561.6,77.37 L561.91,76.29 L562.22,75.21 L562.53,74.12 L562.83,73.03 L563.14,71.93 L563.43,70.84 L563.73,69.74 L564.02,68.64 L564.3,67.54 L564.58,66.43 L564.86,65.32 L565.13,64.21 L565.39,63.1 L565.65,61.99 L565.9,60.87 L566.15,59.75 L566.39,58.64 L566.62,57.52 L566.84,56.4 L567.06,55.28 L567.27,54.15 L567.46,53.03 L567.66,51.91 L567.84,50.79 L568.01,49.66 L568.17,48.54 L568.32,47.42 L568.47,46.3 L568.6,45.17 L568.72,44.05 L568.84,42.93 L568.95,41.81 L569.07,40.69 L569.18,39.56 L569.29,38.44 L569.4,37.32 L569.51,36.19 L569.62,35.07 L569.73,33.94 L569.83,32.81 L569.94,31.69 L570.04,30.56 L570.14,29.43 L570.24,28.3 L570.33,27.17 L570.43,26.04 L570.52,24.91 L570.61,23.78 L570.69,22.65 L570.77,21.52 L570.85,20.38 L570.93,19.25 L571,18.11 L571.07,16.98 L571.14,15.84 L571.2,14.71 L571.26,13.57 L571.31,12.43 L571.36,11.29 L571.41,10.15 L571.45,9.01 L571.49,7.87 L571.52,6.73 L571.55,5.59 L571.57,4.45 L571.59,3.3 L571.6,2.16 L571.61,1.01 L571.62,-0.13" fill="none" stroke="red" stroke-width="2.6" stroke-linejoin="round"/>
<line x1="353.4" y1="162.3" x2="579.7" y2="162.3" stroke="#222" stroke-width="1.3" stroke-linecap="square"/>
<line x1="353.4" y1="4.6" x2="353.4" y2="162.3" stroke="#222" stroke-width="1.3" stroke-linecap="square"/>
<line x1="579.7" y1="4.6" x2="579.7" y2="162.3" stroke="#222" stroke-width="1.3" stroke-linecap="square"/>
<line x1="353.4" y1="4.6" x2="579.7" y2="4.6" stroke="#666" stroke-width="1.5" />
<line x1="378.54" y1="162.3" x2="378.54" y2="157.3" stroke="#222" stroke-width="1.1700000000000002" />
<line x1="378.54" y1="4.6" x2="378.54" y2="9.6" stroke="#222" stroke-width="1.1700000000000002" />
<line x1="403.68" y1="162.3" x2="403.68" y2="157.3" stroke="#222" stroke-width="1.1700000000000002" />
<line x1="403.68" y1="4.6" x2="403.68" y2="9.6" stroke="#222" stroke-width="1.1700000000000002" />
<line x1="428.82" y1="162.3" x2="428.82" y2="157.3" stroke="#222" stroke-width="1.1700000000000002" />
<line x1="428.82" y1="4.6" x2="428.82" y2="9.6" stroke="#222" stroke-width="1.1700000000000002" />
<line x1="453.96" y1="162.3" x2="453.96" y2="157.3" stroke="#222" stroke-width="1.1700000000000002" />
<line x1="453.96" y1="4.6" x2="453.96" y2="9.6" stroke="#222" stroke-width="1.1700000000000002" />
<line x1="479.1" y1="162.3" x2="479.1" y2="157.3" stroke="#222" stroke-width="1.1700000000000002" />
<line x1="479.1" y1="4.6" x2="479.1" y2="9.6" stroke="#222" stroke-width="1.1700000000000002" />
<line x1="504.24" y1="162.3" x2="504.24" y2="157.3" stroke="#222" stroke-width="1.1700000000000002" />
<line x1="504.24" y1="4.6" x2="504.24" y2="9.6" stroke="#222" stroke-width="1.1700000000000002" />
<line x1="529.38" y1="162.3" x2="529.38" y2="157.3" stroke="#222" stroke-width="1.1700000000000002" />
<line x1="529.38" y1="4.6" x2="529.38" y2="9.6" stroke="#222" stroke-width="1.1700000000000002" />
<line x1="554.52" y1="162.3" x2="554.52" y2="157.3" stroke="#222" stroke-width="1.1700000000000002" />
<line x1="554.52" y1="4.6" x2="554.52" y2="9.6" stroke="#222" stroke-width="1.1700000000000002" />
<line x1="353.4" y1="122.88" x2="358.4" y2="122.88" stroke="#222" stroke-width="1.1700000000000002" />
<line x1="579.7" y1="122.88" x2="574.7" y2="122.88" stroke="#222" stroke-width="1.1700000000000002" />
<line x1="353.4" y1="83.45" x2="358.4" y2="83.45" stroke="#222" stroke-width="1.1700000000000002" />
<line x1="579.7" y1="83.45" x2="574.7" y2="83.45" stroke="#222" stroke-width="1.1700000000000002" />
<line x1="353.4" y1="44.03" x2="358.4" y2="44.03" stroke="#222" stroke-width="1.1700000000000002" />
<line x1="579.7" y1="44.03" x2="574.7" y2="44.03" stroke="#222" stroke-width="1.1700000000000002" />
<text transform="translate(354.9,175.3) scale(1.085,1)" font-size="11" text-anchor="middle" font-family='"Liberation Sans", sans-serif'>0</text>
<text transform="translate(380.04,175.3) scale(1.085,1)" font-size="11" text-anchor="middle" font-family='"Liberation Sans", sans-serif'>2</text>
<text transform="translate(405.18,175.3) scale(1.085,1)" font-size="11" text-anchor="middle" font-family='"Liberation Sans", sans-serif'>4</text>
<text transform="translate(430.32,175.3) scale(1.085,1)" font-size="11" text-anchor="middle" font-family='"Liberation Sans", sans-serif'>6</text>
<text transform="translate(455.46,175.3) scale(1.085,1)" font-size="11" text-anchor="middle" font-family='"Liberation Sans", sans-serif'>8</text>
<text transform="translate(480.6,175.3) scale(1.085,1)" font-size="11" text-anchor="middle" font-family='"Liberation Sans", sans-serif'>10</text>
<text transform="translate(505.74,175.3) scale(1.085,1)" font-size="11" text-anchor="middle" font-family='"Liberation Sans", sans-serif'>12</text>
<text transform="translate(530.88,175.3) scale(1.085,1)" font-size="11" text-anchor="middle" font-family='"Liberation Sans", sans-serif'>14</text>
<text transform="translate(556.02,175.3) scale(1.085,1)" font-size="11" text-anchor="middle" font-family='"Liberation Sans", sans-serif'>16</text>
<text transform="translate(581.16,175.3) scale(1.085,1)" font-size="11" text-anchor="middle" font-family='"Liberation Sans", sans-serif'>18</text>
<text transform="translate(349,166.2) scale(1.085,1)" font-size="11" text-anchor="end" font-family='"Liberation Sans", sans-serif'>0</text>
<text transform="translate(349,126.78) scale(1.085,1)" font-size="11" text-anchor="end" font-family='"Liberation Sans", sans-serif'>0.5</text>
<text transform="translate(349,87.35) scale(1.085,1)" font-size="11" text-anchor="end" font-family='"Liberation Sans", sans-serif'>1</text>
<text transform="translate(349,47.93) scale(1.085,1)" font-size="11" text-anchor="end" font-family='"Liberation Sans", sans-serif'>1.5</text>
<text transform="translate(349,8.5) scale(1.085,1)" font-size="11" text-anchor="end" font-family='"Liberation Sans", sans-serif'>2</text>
<text transform="translate(365.9,29.3) scale(1.085,1)" font-size="14.3" text-anchor="start" font-family='"Liberation Sans", sans-serif'>(b)</text>
<text transform="translate(403.5,48.4) scale(1.03,1)" font-size="11" text-anchor="start" font-family='"Liberation Sans", sans-serif'>Re(<tspan font-family='"Liberation Serif", serif' font-size="11.5" font-style="italic">ω</tspan>)&gt;0</text>
<text transform="translate(498.4,79.6) scale(1.03,1)" font-size="11" text-anchor="start" font-family='"Liberation Sans", sans-serif'>Re(<tspan font-family='"Liberation Serif", serif' font-size="11.5" font-style="italic">ω</tspan>)=0</text>
<text transform="translate(531.2,131) scale(1.03,1)" font-size="11" text-anchor="start" font-family='"Liberation Sans", sans-serif'>Re(<tspan font-family='"Liberation Serif", serif' font-size="11.5" font-style="italic">ω</tspan>)&lt;0</text>
<line x1="498" y1="83.4" x2="472.8" y2="138.3" stroke="#111" stroke-width="1.25" />
<line x1="472.8" y1="138.3" x2="473.9" y2="128.6" stroke="#111" stroke-width="1.25" />
<line x1="472.8" y1="138.3" x2="479.7" y2="131" stroke="#111" stroke-width="1.25" />
<text transform="translate(504.4,145.8) scale(1.0,1)" font-size="11" text-anchor="start" font-family='"Liberation Serif", serif'><tspan font-family='"Liberation Serif", serif' font-size="11" font-style="italic">V</tspan><tspan font-family='"Liberation Sans", sans-serif' font-size="9" dy="3.4" fill="#333">min</tspan></text>
<line x1="503.8" y1="142.9" x2="494" y2="150.4" stroke="#111" stroke-width="1.3" />
<polygon points="491.5,152.6 493,148.6 495.8,151.9" fill="#111"/>
<text transform="translate(466.53,193.4) scale(1.0,1)" font-size="16" text-anchor="middle" font-family='"Liberation Serif", serif' font-style="italic">k</text>
<text transform="translate(318.6,83.6) scale(0.95,1) rotate(-90)" font-size="14.95" text-anchor="middle" font-family='"Liberation Sans", sans-serif'><tspan font-family='"Liberation Serif", serif' font-size="14.5" font-style="italic">V</tspan><tspan font-family='"Liberation Serif", serif' font-size="12.5" font-style="italic" dy="4">f</tspan><tspan dy="-4"> (mm/min)</tspan></text>
<clipPath id="cc"><rect x="42.6" y="208.3" width="241" height="162.6"/></clipPath><g clip-path="url(#cc)">
<path d="M102.32,246.65 L102.32,247.59 L102.32,248.52 L102.33,249.45 L102.33,250.37 L102.34,251.29 L102.34,252.2 L102.35,253.1 L102.35,253.99 L102.36,254.88 L102.36,255.76 L102.37,256.63 L102.37,257.5 L102.38,258.36 L102.39,259.21 L102.39,260.06 L102.4,260.9 L102.4,261.74 L102.41,262.57 L102.42,263.39 L102.42,264.21 L102.43,265.02 L102.43,265.82 L102.44,266.62 L102.45,267.41 L102.45,268.2 L102.46,268.98 L102.47,269.76 L102.47,270.52 L102.48,271.29 L102.49,272.05 L102.5,272.8 L102.5,273.54 L102.51,274.28 L102.52,275.02 L102.53,275.75 L102.53,276.47 L102.54,277.19 L102.55,277.9 L102.56,278.61 L102.57,279.31 L102.58,280.01 L102.58,280.7 L102.59,281.39 L102.6,282.07 L102.61,282.75 L102.62,283.42 L102.63,284.08 L102.64,284.75 L102.65,285.4 L102.66,286.05 L102.67,286.7 L102.68,287.34 L102.69,287.98 L102.7,288.61 L102.71,289.24 L102.72,289.86 L102.73,290.48 L102.74,291.09 L102.76,291.7 L102.77,292.3 L102.78,292.9 L102.79,293.5 L102.8,294.09 L102.82,294.68 L102.83,295.26 L102.84,295.83 L102.85,296.41 L102.87,296.98 L102.88,297.54 L102.89,298.1 L102.91,298.66 L102.92,299.21 L102.94,299.76 L102.95,300.3 L102.96,300.84 L102.98,301.38 L102.99,301.91 L103.01,302.43 L103.03,302.96 L103.04,303.48 L103.06,303.99 L103.07,304.51 L103.09,305.01 L103.11,305.52 L103.12,306.02 L103.14,306.51 L103.16,307.01 L103.18,307.5 L103.2,307.98 L103.21,308.46 L103.23,308.94 L103.25,309.42 L103.27,309.89 L103.29,310.36 L103.31,310.82 L103.33,311.28 L103.35,311.74 L103.37,312.19 L103.4,312.64 L103.42,313.09 L103.44,313.53 L103.46,313.97 L103.48,314.41 L103.51,314.84 L103.53,315.27 L103.56,315.7 L103.58,316.12 L103.6,316.54 L103.63,316.96 L103.66,317.38 L103.68,317.79 L103.71,318.2 L103.73,318.6 L103.76,319 L103.79,319.4 L103.82,319.8 L103.85,320.19 L103.87,320.58 L103.9,320.97 L103.93,321.35 L103.96,321.73 L103.99,322.11 L104.03,322.49 L104.06,322.86 L104.09,323.23 L104.12,323.6 L104.16,323.96 L104.19,324.33 L104.22,324.68 L104.26,325.04 L104.29,325.4 L104.33,325.75 L104.37,326.09 L104.4,326.44 L104.44,326.78 L104.48,327.12 L104.52,327.46 L104.56,327.8 L104.6,328.13 L104.64,328.46 L104.68,328.79 L104.72,329.12 L104.77,329.44 L104.81,329.76 L104.86,330.08 L104.9,330.39 L104.95,330.71 L104.99,331.02 L105.04,331.33 L105.09,331.63 L105.14,331.94 L105.19,332.24 L105.24,332.54 L105.29,332.84 L105.34,333.13 L105.39,333.43 L105.45,333.72 L105.5,334.01 L105.56,334.29 L105.61,334.58 L105.67,334.86 L105.73,335.14 L105.79,335.42 L105.84,335.69 L105.91,335.97 L105.97,336.24 L106.03,336.51 L106.09,336.78 L106.16,337.04 L106.22,337.3 L106.29,337.57 L106.36,337.83 L106.43,338.08 L106.5,338.34 L106.57,338.59 L106.64,338.85 L106.71,339.1 L106.79,339.34 L106.87,339.59 L106.94,339.83 L107.02,340.08 L107.1,340.32 L107.18,340.56 L107.26,340.79 L107.35,341.03 L107.43,341.26 L107.52,341.5 L107.6,341.73 L107.69,341.95 L107.78,342.18 L107.87,342.41 L107.97,342.63 L108.06,342.85 L108.16,343.07 L108.26,343.29 L108.36,343.51 L108.46,343.72 L108.56,343.94 L108.66,344.15 L108.77,344.36 L108.88,344.57 L108.98,344.77 L109.1,344.98 L109.21,345.18 L109.32,345.39 L109.44,345.59 L109.56,345.79 L109.68,345.98 L109.8,346.18 L109.92,346.38 L110.05,346.57 L110.17,346.76 L110.3,346.95 L110.44,347.14 L110.57,347.33 L110.71,347.52 L110.84,347.7 L110.98,347.88 L111.13,348.07 L111.27,348.25 L111.42,348.43 L111.57,348.61 L111.72,348.78 L111.88,348.96 L112.03,349.13 L112.19,349.31 L112.35,349.48 L112.52,349.65 L112.68,349.82 L112.85,349.98 L113.03,350.15 L113.2,350.32 L113.38,350.48 L113.56,350.64 L113.74,350.8 L113.93,350.96 L114.12,351.12 L114.31,351.28 L114.51,351.44 L114.71,351.59 L114.91,351.75 L115.11,351.9 L115.32,352.05 L115.53,352.2 L115.75,352.35 L115.97,352.5 L116.19,352.65 L116.42,352.8 L116.64,352.94 L116.88,353.09 L117.11,353.23 L117.35,353.37 L117.6,353.51 L117.85,353.65 L118.1,353.79 L118.35,353.93 L118.61,354.07 L118.88,354.2 L119.15,354.34 L119.42,354.47 L119.7,354.6 L119.98,354.74 L120.26,354.87 L120.55,355 L120.85,355.13 L121.15,355.25 L121.45,355.38 L121.76,355.51 L122.08,355.63 L122.39,355.76 L122.72,355.88 L123.05,356 L123.38,356.12 L123.72,356.24 L124.07,356.36 L124.42,356.48 L124.78,356.6 L125.14,356.72 L125.51,356.83 L125.88,356.95 L126.26,357.06 L126.65,357.17 L127.04,357.29 L127.44,357.4 L127.84,357.51 L128.25,357.62 L128.67,357.73 L129.09,357.84 L129.53,357.94 L129.96,358.05 L130.41,358.16 L130.86,358.26 L131.32,358.37 L131.79,358.47 L132.26,358.57 L132.74,358.67 L133.23,358.78 L133.73,358.88 L134.23,358.98 L134.74,359.08 L135.27,359.17 L135.79,359.27 L136.33,359.37 L136.88,359.46 L137.43,359.56 L138,359.65 L138.57,359.75 L139.15,359.84 L139.74,359.93 L140.34,360.03 L140.95,360.12 L141.57,360.21 L142.2,360.3 L142.84,360.39 L143.49,360.47 L144.15,360.56 L144.82,360.65 L145.51,360.74 L146.2,360.82 L146.9,360.91 L147.62,360.99 L148.34,361.07 L149.08,361.16 L149.83,361.24 L150.59,361.32 L151.36,361.4 L152.15,361.48 L152.95,361.56 L153.76,361.64 L154.58,361.72 L155.42,361.8 L156.27,361.88 L157.13,361.96 L158.01,362.03 L158.9,362.11 L159.81,362.18 L160.73,362.26 L161.66,362.33 L162.61,362.41 L163.58,362.48 L164.56,362.55 L165.55,362.63 L166.57,362.7 L167.59,362.77 L168.64,362.84 L169.7,362.91 L170.78,362.98 L171.87,363.05 L172.98,363.12 L174.11,363.18 L175.26,363.25 L176.43,363.32 L177.61,363.38 L178.82,363.45 L180.04,363.52 L181.28,363.58 L182.54,363.64 L183.82,363.71 L185.13,363.77 L186.45,363.84 L187.8,363.9 L189.16,363.96 L190.55,364.02 L191.96,364.08 L193.39,364.14 L194.85,364.2 L196.32,364.26 L197.83,364.32 L199.35,364.38 L200.9,364.44 L202.48,364.5 L204.07,364.55 L205.7,364.61 L207.35,364.67 L209.03,364.72 L210.73,364.78 L212.46,364.84 L214.22,364.89 L216.01,364.95 L217.82,365 L219.67,365.05 L221.54,365.11 L223.44,365.16 L225.38,365.21 L227.34,365.26 L229.34,365.32 L231.37,365.37 L233.43,365.42 L235.52,365.47 L237.64,365.52 L239.8,365.57 L242,365.62 L244.23,365.67 L246.49,365.72 L248.79,365.77 L251.13,365.81 L253.5,365.86 L255.92,365.91 L258.37,365.96" fill="none" stroke="black" stroke-width="1.7" stroke-linejoin="round"/>
<path d="M79.21,201.52 L79.21,202.74 L79.21,203.94 L79.22,205.14 L79.22,206.33 L79.22,207.51 L79.22,208.68 L79.22,209.85 L79.22,211 L79.22,212.15 L79.22,213.29 L79.22,214.42 L79.22,215.55 L79.22,216.66 L79.22,217.77 L79.22,218.87 L79.22,219.97 L79.22,221.06 L79.22,222.13 L79.22,223.21 L79.22,224.27 L79.23,225.33 L79.23,226.38 L79.23,227.42 L79.23,228.46 L79.23,229.48 L79.23,230.5 L79.23,231.52 L79.23,232.53 L79.23,233.53 L79.23,234.52 L79.23,235.51 L79.23,236.49 L79.24,237.46 L79.24,238.43 L79.24,239.39 L79.24,240.34 L79.24,241.28 L79.24,242.22 L79.24,243.16 L79.24,244.09 L79.24,245.01 L79.24,245.92 L79.25,246.83 L79.25,247.73 L79.25,248.63 L79.25,249.52 L79.25,250.4 L79.25,251.28 L79.25,252.15 L79.25,253.01 L79.26,253.87 L79.26,254.73 L79.26,255.58 L79.26,256.42 L79.26,257.25 L79.26,258.08 L79.27,258.91 L79.27,259.73 L79.27,260.54 L79.27,261.35 L79.27,262.15 L79.27,262.95 L79.28,263.74 L79.28,264.52 L79.28,265.3 L79.28,266.08 L79.28,266.85 L79.29,267.61 L79.29,268.37 L79.29,269.13 L79.29,269.88 L79.29,270.62 L79.3,271.36 L79.3,272.09 L79.3,272.82 L79.3,273.54 L79.31,274.26 L79.31,274.97 L79.31,275.68 L79.31,276.39 L79.32,277.09 L79.32,277.78 L79.32,278.47 L79.33,279.15 L79.33,279.83 L79.33,280.51 L79.34,281.18 L79.34,281.84 L79.34,282.51 L79.35,283.16 L79.35,283.82 L79.35,284.46 L79.36,285.11 L79.36,285.75 L79.36,286.38 L79.37,287.01 L79.37,287.64 L79.38,288.26 L79.38,288.87 L79.38,289.49 L79.39,290.1 L79.39,290.7 L79.4,291.3 L79.4,291.9 L79.41,292.49 L79.41,293.08 L79.42,293.66 L79.42,294.24 L79.43,294.82 L79.43,295.39 L79.44,295.96 L79.44,296.52 L79.45,297.08 L79.46,297.64 L79.46,298.19 L79.47,298.74 L79.47,299.29 L79.48,299.83 L79.49,300.37 L79.49,300.9 L79.5,301.43 L79.51,301.96 L79.52,302.48 L79.52,303 L79.53,303.52 L79.54,304.03 L79.55,304.54 L79.56,305.04 L79.56,305.55 L79.57,306.04 L79.58,306.54 L79.59,307.03 L79.6,307.52 L79.61,308 L79.62,308.49 L79.63,308.96 L79.64,309.44 L79.65,309.91 L79.66,310.38 L79.67,310.84 L79.68,311.31 L79.69,311.77 L79.7,312.22 L79.71,312.67 L79.73,313.12 L79.74,313.57 L79.75,314.01 L79.76,314.45 L79.78,314.89 L79.79,315.32 L79.81,315.76 L79.82,316.18 L79.83,316.61 L79.85,317.03 L79.86,317.45 L79.88,317.87 L79.9,318.28 L79.91,318.69 L79.93,319.1 L79.95,319.51 L79.96,319.91 L79.98,320.31 L80,320.71 L80.02,321.1 L80.04,321.49 L80.06,321.88 L80.08,322.27 L80.1,322.65 L80.12,323.03 L80.14,323.41 L80.16,323.79 L80.18,324.16 L80.21,324.53 L80.23,324.9 L80.25,325.26 L80.28,325.63 L80.3,325.99 L80.33,326.34 L80.35,326.7 L80.38,327.05 L80.41,327.4 L80.44,327.75 L80.47,328.1 L80.5,328.44 L80.53,328.78 L80.56,329.12 L80.59,329.46 L80.62,329.79 L80.65,330.12 L80.69,330.45 L80.72,330.78 L80.76,331.11 L80.79,331.43 L80.83,331.75 L80.87,332.07 L80.91,332.38 L80.95,332.7 L80.99,333.01 L81.03,333.32 L81.07,333.63 L81.11,333.93 L81.16,334.24 L81.2,334.54 L81.25,334.84 L81.3,335.13 L81.35,335.43 L81.4,335.72 L81.45,336.01 L81.5,336.3 L81.55,336.59 L81.61,336.87 L81.66,337.16 L81.72,337.44 L81.78,337.72 L81.84,337.99 L81.9,338.27 L81.96,338.54 L82.03,338.82 L82.09,339.09 L82.16,339.35 L82.23,339.62 L82.3,339.88 L82.37,340.15 L82.45,340.41 L82.52,340.67 L82.6,340.92 L82.68,341.18 L82.76,341.43 L82.84,341.68 L82.93,341.93 L83.01,342.18 L83.1,342.43 L83.19,342.67 L83.28,342.92 L83.38,343.16 L83.48,343.4 L83.57,343.64 L83.68,343.87 L83.78,344.11 L83.89,344.34 L83.99,344.57 L84.11,344.8 L84.22,345.03 L84.34,345.26 L84.46,345.49 L84.58,345.71 L84.7,345.93 L84.83,346.15 L84.96,346.37 L85.09,346.59 L85.23,346.81 L85.37,347.02 L85.51,347.24 L85.66,347.45 L85.81,347.66 L85.96,347.87 L86.12,348.07 L86.28,348.28 L86.44,348.49 L86.61,348.69 L86.78,348.89 L86.96,349.09 L87.14,349.29 L87.32,349.49 L87.51,349.69 L87.71,349.88 L87.9,350.07 L88.1,350.27 L88.31,350.46 L88.52,350.65 L88.74,350.84 L88.96,351.02 L89.19,351.21 L89.42,351.39 L89.65,351.58 L89.9,351.76 L90.14,351.94 L90.4,352.12 L90.66,352.3 L90.92,352.48 L91.2,352.65 L91.47,352.83 L91.76,353 L92.05,353.17 L92.35,353.34 L92.65,353.51 L92.96,353.68 L93.28,353.85 L93.61,354.02 L93.94,354.18 L94.29,354.35 L94.64,354.51 L94.99,354.67 L95.36,354.83 L95.73,354.99 L96.12,355.15 L96.51,355.31 L96.91,355.46 L97.32,355.62 L97.74,355.77 L98.17,355.93 L98.61,356.08 L99.06,356.23 L99.52,356.38 L99.99,356.53 L100.47,356.68 L100.97,356.83 L101.47,356.97 L101.99,357.12 L102.52,357.26 L103.06,357.4 L103.61,357.55 L104.18,357.69 L104.75,357.83 L105.35,357.97 L105.95,358.1 L106.57,358.24 L107.21,358.38 L107.86,358.51 L108.52,358.65 L109.2,358.78 L109.9,358.91 L110.61,359.05 L111.34,359.18 L112.08,359.31 L112.84,359.44 L113.62,359.56 L114.42,359.69 L115.24,359.82 L116.07,359.94 L116.93,360.07 L117.8,360.19 L118.69,360.31 L119.61,360.44 L120.55,360.56 L121.51,360.68 L122.49,360.8 L123.49,360.92 L124.52,361.03 L125.57,361.15 L126.64,361.27 L127.74,361.38 L128.86,361.5 L130.02,361.61 L131.19,361.73 L132.4,361.84 L133.63,361.95 L134.89,362.06 L136.18,362.17 L137.5,362.28 L138.86,362.39 L140.24,362.5 L141.65,362.6 L143.1,362.71 L144.58,362.82 L146.1,362.92 L147.65,363.02 L149.23,363.13 L150.86,363.23 L152.52,363.33 L154.22,363.43 L155.95,363.53 L157.73,363.63 L159.55,363.73 L161.42,363.83 L163.32,363.93 L165.27,364.03 L167.27,364.12 L169.31,364.22 L171.39,364.32 L173.53,364.41 L175.72,364.5 L177.95,364.6 L180.24,364.69 L182.59,364.78 L184.98,364.87 L187.43,364.96 L189.94,365.05 L192.51,365.14 L195.13,365.23 L197.82,365.32 L200.57,365.41 L203.38,365.5 L206.26,365.58 L209.2,365.67 L212.22,365.75 L215.3,365.84 L218.45,365.92 L221.68,366.01 L224.98,366.09 L228.36,366.17 L231.82,366.25 L235.36,366.33 L238.97,366.42 L242.68,366.5 L246.47,366.58 L250.34,366.65 L254.31,366.73 L258.37,366.81" fill="none" stroke="red" stroke-width="1.7" stroke-linejoin="round"/>
<path d="M64.47,286.89 L64.47,287.44 L64.47,287.98 L64.48,288.53 L64.48,289.06 L64.48,289.6 L64.48,290.13 L64.49,290.66 L64.49,291.18 L64.49,291.71 L64.5,292.22 L64.5,292.74 L64.5,293.25 L64.51,293.76 L64.51,294.27 L64.51,294.77 L64.52,295.27 L64.52,295.76 L64.52,296.26 L64.53,296.75 L64.53,297.23 L64.54,297.72 L64.54,298.2 L64.54,298.67 L64.55,299.15 L64.55,299.62 L64.56,300.09 L64.56,300.55 L64.56,301.02 L64.57,301.47 L64.57,301.93 L64.58,302.39 L64.58,302.84 L64.59,303.28 L64.59,303.73 L64.6,304.17 L64.6,304.61 L64.61,305.05 L64.61,305.48 L64.62,305.91 L64.62,306.34 L64.63,306.77 L64.63,307.19 L64.64,307.61 L64.65,308.03 L64.65,308.45 L64.66,308.86 L64.66,309.27 L64.67,309.68 L64.68,310.08 L64.68,310.48 L64.69,310.88 L64.7,311.28 L64.7,311.67 L64.71,312.07 L64.72,312.46 L64.72,312.84 L64.73,313.23 L64.74,313.61 L64.75,313.99 L64.75,314.37 L64.76,314.74 L64.77,315.12 L64.78,315.49 L64.79,315.85 L64.8,316.22 L64.8,316.58 L64.81,316.95 L64.82,317.3 L64.83,317.66 L64.84,318.02 L64.85,318.37 L64.86,318.72 L64.87,319.07 L64.88,319.41 L64.89,319.75 L64.9,320.1 L64.91,320.43 L64.92,320.77 L64.93,321.11 L64.94,321.44 L64.95,321.77 L64.96,322.1 L64.98,322.42 L64.99,322.75 L65,323.07 L65.01,323.39 L65.03,323.71 L65.04,324.02 L65.05,324.34 L65.06,324.65 L65.08,324.96 L65.09,325.27 L65.11,325.58 L65.12,325.88 L65.13,326.18 L65.15,326.48 L65.16,326.78 L65.18,327.08 L65.2,327.37 L65.21,327.67 L65.23,327.96 L65.24,328.25 L65.26,328.53 L65.28,328.82 L65.3,329.1 L65.31,329.39 L65.33,329.67 L65.35,329.95 L65.37,330.22 L65.39,330.5 L65.41,330.77 L65.43,331.04 L65.45,331.31 L65.47,331.58 L65.49,331.85 L65.51,332.11 L65.53,332.37 L65.55,332.64 L65.57,332.9 L65.6,333.15 L65.62,333.41 L65.64,333.66 L65.67,333.92 L65.69,334.17 L65.72,334.42 L65.74,334.67 L65.77,334.92 L65.79,335.16 L65.82,335.4 L65.85,335.65 L65.88,335.89 L65.91,336.13 L65.93,336.36 L65.96,336.6 L65.99,336.84 L66.02,337.07 L66.05,337.3 L66.09,337.53 L66.12,337.76 L66.15,337.99 L66.18,338.21 L66.22,338.44 L66.25,338.66 L66.29,338.88 L66.32,339.1 L66.36,339.32 L66.4,339.54 L66.43,339.75 L66.47,339.97 L66.51,340.18 L66.55,340.4 L66.59,340.61 L66.63,340.82 L66.68,341.02 L66.72,341.23 L66.76,341.44 L66.81,341.64 L66.85,341.84 L66.9,342.04 L66.94,342.24 L66.99,342.44 L67.04,342.64 L67.09,342.84 L67.14,343.03 L67.19,343.23 L67.24,343.42 L67.3,343.61 L67.35,343.8 L67.41,343.99 L67.46,344.18 L67.52,344.37 L67.58,344.55 L67.64,344.74 L67.7,344.92 L67.76,345.1 L67.82,345.28 L67.88,345.46 L67.95,345.64 L68.01,345.82 L68.08,346 L68.15,346.17 L68.22,346.35 L68.29,346.52 L68.36,346.69 L68.43,346.86 L68.51,347.03 L68.59,347.2 L68.66,347.37 L68.74,347.53 L68.82,347.7 L68.9,347.86 L68.99,348.03 L69.07,348.19 L69.16,348.35 L69.25,348.51 L69.34,348.67 L69.43,348.83 L69.52,348.99 L69.61,349.14 L69.71,349.3 L69.81,349.45 L69.91,349.61 L70.01,349.76 L70.11,349.91 L70.22,350.06 L70.33,350.21 L70.43,350.36 L70.55,350.51 L70.66,350.66 L70.77,350.8 L70.89,350.95 L71.01,351.09 L71.13,351.23 L71.26,351.38 L71.38,351.52 L71.51,351.66 L71.64,351.8 L71.77,351.94 L71.91,352.07 L72.05,352.21 L72.19,352.35 L72.33,352.48 L72.48,352.62 L72.62,352.75 L72.78,352.88 L72.93,353.01 L73.09,353.15 L73.24,353.28 L73.41,353.4 L73.57,353.53 L73.74,353.66 L73.91,353.79 L74.09,353.91 L74.26,354.04 L74.44,354.16 L74.63,354.29 L74.81,354.41 L75.01,354.53 L75.2,354.65 L75.4,354.77 L75.6,354.89 L75.8,355.01 L76.01,355.13 L76.22,355.25 L76.44,355.37 L76.66,355.48 L76.89,355.6 L77.11,355.71 L77.35,355.83 L77.58,355.94 L77.82,356.05 L78.07,356.16 L78.32,356.28 L78.57,356.39 L78.83,356.5 L79.1,356.6 L79.36,356.71 L79.64,356.82 L79.92,356.93 L80.2,357.03 L80.49,357.14 L80.78,357.24 L81.08,357.35 L81.39,357.45 L81.7,357.55 L82.01,357.66 L82.33,357.76 L82.66,357.86 L82.99,357.96 L83.33,358.06 L83.68,358.16 L84.03,358.26 L84.39,358.36 L84.75,358.45 L85.12,358.55 L85.5,358.65 L85.89,358.74 L86.28,358.84 L86.68,358.93 L87.08,359.02 L87.5,359.12 L87.92,359.21 L88.35,359.3 L88.78,359.39 L89.23,359.48 L89.68,359.57 L90.14,359.66 L90.61,359.75 L91.09,359.84 L91.57,359.93 L92.07,360.02 L92.57,360.1 L93.09,360.19 L93.61,360.27 L94.14,360.36 L94.68,360.44 L95.24,360.53 L95.8,360.61 L96.37,360.69 L96.95,360.78 L97.55,360.86 L98.15,360.94 L98.76,361.02 L99.39,361.1 L100.03,361.18 L100.68,361.26 L101.34,361.34 L102.01,361.42 L102.69,361.5 L103.39,361.57 L104.1,361.65 L104.82,361.73 L105.56,361.8 L106.31,361.88 L107.07,361.95 L107.85,362.03 L108.64,362.1 L109.45,362.17 L110.27,362.25 L111.1,362.32 L111.95,362.39 L112.82,362.46 L113.7,362.54 L114.59,362.61 L115.51,362.68 L116.44,362.75 L117.38,362.82 L118.35,362.89 L119.33,362.95 L120.33,363.02 L121.35,363.09 L122.38,363.16 L123.44,363.22 L124.51,363.29 L125.61,363.36 L126.72,363.42 L127.86,363.49 L129.01,363.55 L130.19,363.62 L131.38,363.68 L132.6,363.74 L133.84,363.81 L135.1,363.87 L136.39,363.93 L137.7,364 L139.03,364.06 L140.39,364.12 L141.77,364.18 L143.18,364.24 L144.61,364.3 L146.07,364.36 L147.56,364.42 L149.07,364.48 L150.61,364.54 L152.18,364.59 L153.78,364.65 L155.4,364.71 L157.06,364.77 L158.74,364.82 L160.46,364.88 L162.2,364.94 L163.98,364.99 L165.79,365.05 L167.64,365.1 L169.52,365.16 L171.43,365.21 L173.37,365.26 L175.35,365.32 L177.37,365.37 L179.43,365.42 L181.52,365.48 L183.65,365.53 L185.82,365.58 L188.02,365.63 L190.27,365.68 L192.56,365.73 L194.89,365.79 L197.26,365.84 L199.68,365.89 L202.14,365.94 L204.64,365.98 L207.19,366.03 L209.79,366.08 L212.43,366.13 L215.12,366.18 L217.86,366.23 L220.65,366.27 L223.5,366.32 L226.39,366.37 L229.33,366.41 L232.33,366.46 L235.38,366.51 L238.49,366.55 L241.66,366.6 L244.88,366.64 L248.16,366.69 L251.5,366.73 L254.9,366.78 L258.37,366.82" fill="none" stroke="#00ee44" stroke-width="1.7" stroke-linejoin="round"/>
<path d="M53.65,296.38 L53.65,296.88 L53.65,297.38 L53.65,297.87 L53.65,298.36 L53.65,298.85 L53.66,299.34 L53.66,299.82 L53.66,300.3 L53.66,300.77 L53.66,301.25 L53.67,301.72 L53.67,302.18 L53.67,302.65 L53.67,303.11 L53.68,303.56 L53.68,304.02 L53.68,304.47 L53.68,304.92 L53.68,305.36 L53.69,305.81 L53.69,306.24 L53.69,306.68 L53.69,307.12 L53.7,307.55 L53.7,307.97 L53.7,308.4 L53.71,308.82 L53.71,309.24 L53.71,309.66 L53.71,310.07 L53.72,310.48 L53.72,310.89 L53.72,311.3 L53.73,311.7 L53.73,312.1 L53.73,312.5 L53.74,312.9 L53.74,313.29 L53.74,313.68 L53.75,314.07 L53.75,314.45 L53.76,314.83 L53.76,315.21 L53.76,315.59 L53.77,315.97 L53.77,316.34 L53.78,316.71 L53.78,317.08 L53.78,317.44 L53.79,317.8 L53.79,318.16 L53.8,318.52 L53.8,318.88 L53.81,319.23 L53.81,319.58 L53.82,319.93 L53.82,320.28 L53.83,320.62 L53.83,320.96 L53.84,321.3 L53.84,321.64 L53.85,321.97 L53.85,322.31 L53.86,322.64 L53.87,322.97 L53.87,323.29 L53.88,323.62 L53.88,323.94 L53.89,324.26 L53.9,324.58 L53.9,324.89 L53.91,325.2 L53.92,325.52 L53.92,325.83 L53.93,326.13 L53.94,326.44 L53.95,326.74 L53.95,327.04 L53.96,327.34 L53.97,327.64 L53.98,327.93 L53.99,328.23 L53.99,328.52 L54,328.81 L54.01,329.1 L54.02,329.38 L54.03,329.67 L54.04,329.95 L54.05,330.23 L54.06,330.51 L54.07,330.78 L54.08,331.06 L54.09,331.33 L54.1,331.6 L54.11,331.87 L54.12,332.14 L54.13,332.4 L54.14,332.67 L54.15,332.93 L54.16,333.19 L54.18,333.45 L54.19,333.71 L54.2,333.96 L54.21,334.22 L54.23,334.47 L54.24,334.72 L54.25,334.97 L54.27,335.21 L54.28,335.46 L54.3,335.7 L54.31,335.95 L54.32,336.19 L54.34,336.43 L54.35,336.66 L54.37,336.9 L54.39,337.13 L54.4,337.37 L54.42,337.6 L54.44,337.83 L54.45,338.05 L54.47,338.28 L54.49,338.51 L54.51,338.73 L54.53,338.95 L54.54,339.17 L54.56,339.39 L54.58,339.61 L54.6,339.83 L54.62,340.04 L54.65,340.25 L54.67,340.47 L54.69,340.68 L54.71,340.89 L54.73,341.09 L54.76,341.3 L54.78,341.51 L54.8,341.71 L54.83,341.91 L54.85,342.11 L54.88,342.31 L54.9,342.51 L54.93,342.71 L54.96,342.91 L54.99,343.1 L55.01,343.29 L55.04,343.49 L55.07,343.68 L55.1,343.87 L55.13,344.05 L55.16,344.24 L55.19,344.43 L55.23,344.61 L55.26,344.8 L55.29,344.98 L55.33,345.16 L55.36,345.34 L55.4,345.52 L55.43,345.69 L55.47,345.87 L55.51,346.05 L55.55,346.22 L55.58,346.39 L55.62,346.56 L55.67,346.73 L55.71,346.9 L55.75,347.07 L55.79,347.24 L55.84,347.4 L55.88,347.57 L55.93,347.73 L55.97,347.9 L56.02,348.06 L56.07,348.22 L56.12,348.38 L56.17,348.54 L56.22,348.69 L56.27,348.85 L56.33,349.01 L56.38,349.16 L56.44,349.31 L56.49,349.47 L56.55,349.62 L56.61,349.77 L56.67,349.92 L56.73,350.07 L56.79,350.21 L56.86,350.36 L56.92,350.5 L56.99,350.65 L57.05,350.79 L57.12,350.94 L57.19,351.08 L57.26,351.22 L57.34,351.36 L57.41,351.5 L57.49,351.63 L57.56,351.77 L57.64,351.91 L57.72,352.04 L57.8,352.18 L57.89,352.31 L57.97,352.44 L58.06,352.57 L58.15,352.7 L58.24,352.83 L58.33,352.96 L58.42,353.09 L58.52,353.22 L58.62,353.35 L58.72,353.47 L58.82,353.6 L58.92,353.72 L59.03,353.84 L59.14,353.97 L59.25,354.09 L59.36,354.21 L59.47,354.33 L59.59,354.45 L59.71,354.57 L59.83,354.68 L59.95,354.8 L60.08,354.92 L60.2,355.03 L60.33,355.15 L60.47,355.26 L60.6,355.37 L60.74,355.49 L60.88,355.6 L61.03,355.71 L61.17,355.82 L61.32,355.93 L61.48,356.04 L61.63,356.14 L61.79,356.25 L61.95,356.36 L62.12,356.46 L62.29,356.57 L62.46,356.67 L62.63,356.78 L62.81,356.88 L62.99,356.98 L63.18,357.08 L63.37,357.19 L63.56,357.29 L63.76,357.39 L63.96,357.49 L64.16,357.58 L64.37,357.68 L64.59,357.78 L64.8,357.87 L65.02,357.97 L65.25,358.07 L65.48,358.16 L65.71,358.25 L65.95,358.35 L66.2,358.44 L66.44,358.53 L66.7,358.62 L66.96,358.71 L67.22,358.8 L67.49,358.89 L67.76,358.98 L68.04,359.07 L68.33,359.16 L68.62,359.25 L68.91,359.33 L69.22,359.42 L69.52,359.51 L69.84,359.59 L70.16,359.68 L70.48,359.76 L70.82,359.84 L71.16,359.93 L71.5,360.01 L71.86,360.09 L72.22,360.17 L72.58,360.25 L72.96,360.33 L73.34,360.41 L73.73,360.49 L74.12,360.57 L74.53,360.65 L74.94,360.72 L75.36,360.8 L75.79,360.88 L76.23,360.95 L76.67,361.03 L77.13,361.1 L77.59,361.18 L78.06,361.25 L78.55,361.33 L79.04,361.4 L79.54,361.47 L80.05,361.54 L80.57,361.62 L81.1,361.69 L81.64,361.76 L82.2,361.83 L82.76,361.9 L83.33,361.97 L83.92,362.04 L84.52,362.1 L85.13,362.17 L85.75,362.24 L86.38,362.31 L87.03,362.37 L87.68,362.44 L88.36,362.5 L89.04,362.57 L89.74,362.63 L90.45,362.7 L91.17,362.76 L91.91,362.83 L92.67,362.89 L93.44,362.95 L94.22,363.01 L95.02,363.08 L95.84,363.14 L96.67,363.2 L97.52,363.26 L98.38,363.32 L99.26,363.38 L100.16,363.44 L101.08,363.5 L102.01,363.56 L102.97,363.62 L103.94,363.67 L104.93,363.73 L105.94,363.79 L106.97,363.84 L108.02,363.9 L109.09,363.96 L110.19,364.01 L111.3,364.07 L112.43,364.12 L113.59,364.18 L114.77,364.23 L115.98,364.29 L117.21,364.34 L118.46,364.39 L119.73,364.45 L121.04,364.5 L122.36,364.55 L123.72,364.6 L125.1,364.65 L126.5,364.7 L127.94,364.75 L129.4,364.81 L130.89,364.86 L132.41,364.91 L133.96,364.95 L135.55,365 L137.16,365.05 L138.8,365.1 L140.48,365.15 L142.19,365.2 L143.93,365.24 L145.71,365.29 L147.52,365.34 L149.37,365.38 L151.26,365.43 L153.18,365.48 L155.14,365.52 L157.14,365.57 L159.17,365.61 L161.25,365.66 L163.37,365.7 L165.53,365.75 L167.73,365.79 L169.98,365.83 L172.27,365.88 L174.6,365.92 L176.98,365.96 L179.41,366.01 L181.89,366.05 L184.41,366.09 L186.98,366.13 L189.61,366.17 L192.28,366.21 L195.01,366.25 L197.8,366.29 L200.63,366.33 L203.52,366.37 L206.47,366.41 L209.48,366.45 L212.55,366.49 L215.68,366.53 L218.87,366.57 L222.12,366.61 L225.43,366.65 L228.81,366.69 L232.26,366.72 L235.78,366.76 L239.36,366.8 L243.01,366.83 L246.74,366.87 L250.54,366.91 L254.42,366.94 L258.37,366.98" fill="none" stroke="#0033dd" stroke-width="1.7" stroke-linejoin="round"/>
<path d="M46.54,303.15 L46.54,303.56 L46.54,303.96 L46.55,304.37 L46.55,304.77 L46.55,305.17 L46.55,305.56 L46.55,305.96 L46.55,306.35 L46.55,306.74 L46.56,307.13 L46.56,307.51 L46.56,307.9 L46.56,308.28 L46.56,308.66 L46.56,309.03 L46.57,309.41 L46.57,309.78 L46.57,310.15 L46.57,310.52 L46.57,310.89 L46.58,311.25 L46.58,311.61 L46.58,311.97 L46.58,312.33 L46.58,312.69 L46.59,313.04 L46.59,313.39 L46.59,313.74 L46.59,314.09 L46.59,314.44 L46.6,314.78 L46.6,315.13 L46.6,315.47 L46.6,315.8 L46.61,316.14 L46.61,316.48 L46.61,316.81 L46.61,317.14 L46.62,317.47 L46.62,317.8 L46.62,318.12 L46.63,318.45 L46.63,318.77 L46.63,319.09 L46.63,319.41 L46.64,319.72 L46.64,320.04 L46.64,320.35 L46.65,320.66 L46.65,320.97 L46.65,321.28 L46.66,321.58 L46.66,321.89 L46.66,322.19 L46.67,322.49 L46.67,322.79 L46.68,323.09 L46.68,323.38 L46.68,323.68 L46.69,323.97 L46.69,324.26 L46.7,324.55 L46.7,324.84 L46.71,325.12 L46.71,325.41 L46.72,325.69 L46.72,325.97 L46.73,326.25 L46.73,326.53 L46.74,326.8 L46.74,327.08 L46.75,327.35 L46.75,327.62 L46.76,327.89 L46.76,328.16 L46.77,328.43 L46.77,328.69 L46.78,328.96 L46.79,329.22 L46.79,329.48 L46.8,329.74 L46.81,330 L46.81,330.26 L46.82,330.51 L46.83,330.77 L46.83,331.02 L46.84,331.27 L46.85,331.52 L46.86,331.77 L46.86,332.02 L46.87,332.26 L46.88,332.5 L46.89,332.75 L46.9,332.99 L46.91,333.23 L46.91,333.47 L46.92,333.7 L46.93,333.94 L46.94,334.18 L46.95,334.41 L46.96,334.64 L46.97,334.87 L46.98,335.1 L46.99,335.33 L47,335.56 L47.01,335.78 L47.02,336.01 L47.03,336.23 L47.05,336.45 L47.06,336.67 L47.07,336.89 L47.08,337.11 L47.09,337.32 L47.11,337.54 L47.12,337.75 L47.13,337.97 L47.15,338.18 L47.16,338.39 L47.17,338.6 L47.19,338.81 L47.2,339.02 L47.22,339.22 L47.23,339.43 L47.25,339.63 L47.26,339.83 L47.28,340.03 L47.3,340.24 L47.31,340.43 L47.33,340.63 L47.35,340.83 L47.37,341.03 L47.38,341.22 L47.4,341.41 L47.42,341.61 L47.44,341.8 L47.46,341.99 L47.48,342.18 L47.5,342.37 L47.52,342.55 L47.54,342.74 L47.57,342.92 L47.59,343.11 L47.61,343.29 L47.64,343.47 L47.66,343.65 L47.68,343.83 L47.71,344.01 L47.73,344.19 L47.76,344.37 L47.79,344.54 L47.81,344.72 L47.84,344.89 L47.87,345.07 L47.9,345.24 L47.93,345.41 L47.96,345.58 L47.99,345.75 L48.02,345.92 L48.05,346.08 L48.08,346.25 L48.12,346.42 L48.15,346.58 L48.18,346.74 L48.22,346.91 L48.25,347.07 L48.29,347.23 L48.33,347.39 L48.37,347.55 L48.41,347.71 L48.44,347.86 L48.49,348.02 L48.53,348.17 L48.57,348.33 L48.61,348.48 L48.66,348.64 L48.7,348.79 L48.75,348.94 L48.79,349.09 L48.84,349.24 L48.89,349.39 L48.94,349.53 L48.99,349.68 L49.04,349.83 L49.1,349.97 L49.15,350.12 L49.2,350.26 L49.26,350.4 L49.32,350.55 L49.38,350.69 L49.44,350.83 L49.5,350.97 L49.56,351.11 L49.62,351.24 L49.69,351.38 L49.75,351.52 L49.82,351.65 L49.89,351.79 L49.96,351.92 L50.03,352.06 L50.11,352.19 L50.18,352.32 L50.26,352.45 L50.34,352.58 L50.42,352.71 L50.5,352.84 L50.58,352.97 L50.66,353.1 L50.75,353.22 L50.84,353.35 L50.93,353.48 L51.02,353.6 L51.11,353.72 L51.21,353.85 L51.31,353.97 L51.41,354.09 L51.51,354.21 L51.61,354.33 L51.72,354.45 L51.83,354.57 L51.94,354.69 L52.05,354.81 L52.17,354.93 L52.28,355.04 L52.4,355.16 L52.53,355.27 L52.65,355.39 L52.78,355.5 L52.91,355.62 L53.04,355.73 L53.18,355.84 L53.31,355.95 L53.45,356.06 L53.6,356.17 L53.75,356.28 L53.9,356.39 L54.05,356.5 L54.21,356.61 L54.36,356.71 L54.53,356.82 L54.69,356.93 L54.86,357.03 L55.04,357.14 L55.21,357.24 L55.39,357.34 L55.58,357.45 L55.77,357.55 L55.96,357.65 L56.15,357.75 L56.35,357.85 L56.56,357.95 L56.76,358.05 L56.98,358.15 L57.19,358.25 L57.42,358.35 L57.64,358.45 L57.87,358.54 L58.11,358.64 L58.35,358.73 L58.59,358.83 L58.84,358.92 L59.1,359.02 L59.36,359.11 L59.62,359.2 L59.9,359.3 L60.17,359.39 L60.45,359.48 L60.74,359.57 L61.04,359.66 L61.34,359.75 L61.65,359.84 L61.96,359.93 L62.28,360.02 L62.6,360.11 L62.94,360.19 L63.28,360.28 L63.62,360.37 L63.98,360.45 L64.34,360.54 L64.71,360.62 L65.08,360.71 L65.47,360.79 L65.86,360.88 L66.26,360.96 L66.67,361.04 L67.09,361.12 L67.51,361.21 L67.95,361.29 L68.39,361.37 L68.84,361.45 L69.3,361.53 L69.78,361.61 L70.26,361.69 L70.75,361.76 L71.25,361.84 L71.76,361.92 L72.28,362 L72.82,362.07 L73.36,362.15 L73.91,362.23 L74.48,362.3 L75.06,362.38 L75.65,362.45 L76.25,362.53 L76.87,362.6 L77.49,362.67 L78.14,362.75 L78.79,362.82 L79.46,362.89 L80.14,362.96 L80.83,363.03 L81.54,363.1 L82.27,363.18 L83.01,363.25 L83.76,363.32 L84.53,363.38 L85.32,363.45 L86.12,363.52 L86.94,363.59 L87.77,363.66 L88.62,363.73 L89.49,363.79 L90.38,363.86 L91.29,363.93 L92.21,363.99 L93.16,364.06 L94.12,364.12 L95.11,364.19 L96.11,364.25 L97.14,364.32 L98.18,364.38 L99.25,364.44 L100.34,364.51 L101.45,364.57 L102.59,364.63 L103.75,364.69 L104.93,364.75 L106.14,364.82 L107.37,364.88 L108.63,364.94 L109.91,365 L111.22,365.06 L112.56,365.12 L113.92,365.18 L115.31,365.23 L116.74,365.29 L118.19,365.35 L119.67,365.41 L121.18,365.47 L122.72,365.52 L124.3,365.58 L125.9,365.64 L127.54,365.69 L129.22,365.75 L130.93,365.81 L132.67,365.86 L134.45,365.92 L136.27,365.97 L138.12,366.03 L140.02,366.08 L141.95,366.13 L143.92,366.19 L145.93,366.24 L147.99,366.29 L150.08,366.35 L152.22,366.4 L154.41,366.45 L156.63,366.5 L158.91,366.55 L161.23,366.6 L163.6,366.65 L166.02,366.71 L168.49,366.76 L171.01,366.81 L173.58,366.86 L176.21,366.9 L178.89,366.95 L181.62,367 L184.41,367.05 L187.26,367.1 L190.17,367.15 L193.13,367.2 L196.16,367.24 L199.25,367.29 L202.41,367.34 L205.63,367.38 L208.92,367.43 L212.27,367.48 L215.7,367.52 L219.19,367.57 L222.76,367.61 L226.4,367.66 L230.12,367.7 L233.91,367.75 L237.78,367.79 L241.73,367.84 L245.76,367.88 L249.88,367.92 L254.08,367.97 L258.37,368.01" fill="none" stroke="#f07ce8" stroke-width="1.7" stroke-linejoin="round"/>
</g>
<rect x="42.6" y="208.3" width="241" height="162.6" fill="none" stroke="#151515" stroke-width="1.45"/>
<line x1="69.37" y1="370.9" x2="69.37" y2="366.4" stroke="#151515" stroke-width="1.305" />
<line x1="69.37" y1="208.3" x2="69.37" y2="212.8" stroke="#151515" stroke-width="1.305" />
<line x1="96.14" y1="370.9" x2="96.14" y2="366.4" stroke="#151515" stroke-width="1.305" />
<line x1="96.14" y1="208.3" x2="96.14" y2="212.8" stroke="#151515" stroke-width="1.305" />
<line x1="122.91" y1="370.9" x2="122.91" y2="366.4" stroke="#151515" stroke-width="1.305" />
<line x1="122.91" y1="208.3" x2="122.91" y2="212.8" stroke="#151515" stroke-width="1.305" />
<line x1="149.68" y1="370.9" x2="149.68" y2="366.4" stroke="#151515" stroke-width="1.305" />
<line x1="149.68" y1="208.3" x2="149.68" y2="212.8" stroke="#151515" stroke-width="1.305" />
<line x1="176.45" y1="370.9" x2="176.45" y2="366.4" stroke="#151515" stroke-width="1.305" />
<line x1="176.45" y1="208.3" x2="176.45" y2="212.8" stroke="#151515" stroke-width="1.305" />
<line x1="203.22" y1="370.9" x2="203.22" y2="366.4" stroke="#151515" stroke-width="1.305" />
<line x1="203.22" y1="208.3" x2="203.22" y2="212.8" stroke="#151515" stroke-width="1.305" />
<line x1="229.99" y1="370.9" x2="229.99" y2="366.4" stroke="#151515" stroke-width="1.305" />
<line x1="229.99" y1="208.3" x2="229.99" y2="212.8" stroke="#151515" stroke-width="1.305" />
<line x1="256.76" y1="370.9" x2="256.76" y2="366.4" stroke="#151515" stroke-width="1.305" />
<line x1="256.76" y1="208.3" x2="256.76" y2="212.8" stroke="#151515" stroke-width="1.305" />
<line x1="42.6" y1="343.8" x2="47.1" y2="343.8" stroke="#151515" stroke-width="1.305" />
<line x1="283.6" y1="343.8" x2="279.1" y2="343.8" stroke="#151515" stroke-width="1.305" />
<line x1="42.6" y1="316.7" x2="47.1" y2="316.7" stroke="#151515" stroke-width="1.305" />
<line x1="283.6" y1="316.7" x2="279.1" y2="316.7" stroke="#151515" stroke-width="1.305" />
<line x1="42.6" y1="289.6" x2="47.1" y2="289.6" stroke="#151515" stroke-width="1.305" />
<line x1="283.6" y1="289.6" x2="279.1" y2="289.6" stroke="#151515" stroke-width="1.305" />
<line x1="42.6" y1="262.5" x2="47.1" y2="262.5" stroke="#151515" stroke-width="1.305" />
<line x1="283.6" y1="262.5" x2="279.1" y2="262.5" stroke="#151515" stroke-width="1.305" />
<line x1="42.6" y1="235.4" x2="47.1" y2="235.4" stroke="#151515" stroke-width="1.305" />
<line x1="283.6" y1="235.4" x2="279.1" y2="235.4" stroke="#151515" stroke-width="1.305" />
<text transform="translate(44,385.2) scale(1.03,1)" font-size="11.6" text-anchor="middle" font-family='"Liberation Sans", sans-serif'>20</text>
<text transform="translate(70.77,385.2) scale(1.03,1)" font-size="11.6" text-anchor="middle" font-family='"Liberation Sans", sans-serif'>30</text>
<text transform="translate(97.54,385.2) scale(1.03,1)" font-size="11.6" text-anchor="middle" font-family='"Liberation Sans", sans-serif'>40</text>
<text transform="translate(124.31,385.2) scale(1.03,1)" font-size="11.6" text-anchor="middle" font-family='"Liberation Sans", sans-serif'>50</text>
<text transform="translate(151.08,385.2) scale(1.03,1)" font-size="11.6" text-anchor="middle" font-family='"Liberation Sans", sans-serif'>60</text>
<text transform="translate(177.85,385.2) scale(1.03,1)" font-size="11.6" text-anchor="middle" font-family='"Liberation Sans", sans-serif'>70</text>
<text transform="translate(204.62,385.2) scale(1.03,1)" font-size="11.6" text-anchor="middle" font-family='"Liberation Sans", sans-serif'>80</text>
<text transform="translate(231.39,385.2) scale(1.03,1)" font-size="11.6" text-anchor="middle" font-family='"Liberation Sans", sans-serif'>90</text>
<text transform="translate(258.16,385.2) scale(1.03,1)" font-size="11.6" text-anchor="middle" font-family='"Liberation Sans", sans-serif'>100</text>
<text transform="translate(284.93,385.2) scale(1.03,1)" font-size="11.6" text-anchor="middle" font-family='"Liberation Sans", sans-serif'>110</text>
<text transform="translate(36.5,375) scale(1.03,1)" font-size="11.6" text-anchor="end" font-family='"Liberation Sans", sans-serif'>0</text>
<text transform="translate(36.5,347.9) scale(1.03,1)" font-size="11.6" text-anchor="end" font-family='"Liberation Sans", sans-serif'>2</text>
<text transform="translate(36.5,320.8) scale(1.03,1)" font-size="11.6" text-anchor="end" font-family='"Liberation Sans", sans-serif'>4</text>
<text transform="translate(36.5,293.7) scale(1.03,1)" font-size="11.6" text-anchor="end" font-family='"Liberation Sans", sans-serif'>6</text>
<text transform="translate(36.5,266.6) scale(1.03,1)" font-size="11.6" text-anchor="end" font-family='"Liberation Sans", sans-serif'>8</text>
<text transform="translate(36.5,239.5) scale(1.03,1)" font-size="11.6" text-anchor="end" font-family='"Liberation Sans", sans-serif'>10</text>
<text transform="translate(36.5,212.4) scale(1.03,1)" font-size="11.6" text-anchor="end" font-family='"Liberation Sans", sans-serif'>12</text>
<line x1="235.2" y1="219.6" x2="269" y2="219.6" stroke="black" stroke-width="1.7" />
<text transform="translate(228.3,223.5) scale(1.085,1)" font-size="11" text-anchor="end" font-family='"Liberation Sans", sans-serif'><tspan font-family='"Liberation Serif", serif' font-size="11.5" font-style="italic">k</tspan><tspan font-family='"Liberation Serif", serif' font-size="9.2" font-style="italic" dy="3.0">e</tspan><tspan dy="-3.0">=0.100</tspan></text>
<line x1="235.2" y1="231.5" x2="269" y2="231.5" stroke="red" stroke-width="1.7" />
<text transform="translate(228.3,235.4) scale(1.085,1)" font-size="11" text-anchor="end" font-family='"Liberation Sans", sans-serif'><tspan font-family='"Liberation Serif", serif' font-size="11.5" font-style="italic">k</tspan><tspan font-family='"Liberation Serif", serif' font-size="9.2" font-style="italic" dy="3.0">e</tspan><tspan dy="-3.0">=0.125</tspan></text>
<line x1="235.2" y1="243.4" x2="269" y2="243.4" stroke="#00ee44" stroke-width="1.7" />
<text transform="translate(228.3,247.3) scale(1.085,1)" font-size="11" text-anchor="end" font-family='"Liberation Sans", sans-serif'><tspan font-family='"Liberation Serif", serif' font-size="11.5" font-style="italic">k</tspan><tspan font-family='"Liberation Serif", serif' font-size="9.2" font-style="italic" dy="3.0">e</tspan><tspan dy="-3.0">=0.150</tspan></text>
<line x1="235.2" y1="255.3" x2="269" y2="255.3" stroke="#0033dd" stroke-width="1.7" />
<text transform="translate(228.3,259.2) scale(1.085,1)" font-size="11" text-anchor="end" font-family='"Liberation Sans", sans-serif'><tspan font-family='"Liberation Serif", serif' font-size="11.5" font-style="italic">k</tspan><tspan font-family='"Liberation Serif", serif' font-size="9.2" font-style="italic" dy="3.0">e</tspan><tspan dy="-3.0">=0.175</tspan></text>
<line x1="235.2" y1="267.2" x2="269" y2="267.2" stroke="#f07ce8" stroke-width="1.7" />
<text transform="translate(228.3,271.1) scale(1.085,1)" font-size="11" text-anchor="end" font-family='"Liberation Sans", sans-serif'><tspan font-family='"Liberation Serif", serif' font-size="11.5" font-style="italic">k</tspan><tspan font-family='"Liberation Serif", serif' font-size="9.2" font-style="italic" dy="3.0">e</tspan><tspan dy="-3.0">=0.200</tspan></text>
<text transform="translate(56,229.6) scale(1.085,1)" font-size="14.6" text-anchor="start" font-family='"Liberation Sans", sans-serif'>(c)</text>
<text transform="translate(45,401.3) scale(1.085,1)" font-size="11" text-anchor="start" font-family='"Liberation Sans", sans-serif'><tspan font-family='"Liberation Serif", serif' font-size="12" font-style="italic">h</tspan>=ratio of extracellular to intracellular volume</text>
<text transform="translate(13.4,289.8) scale(1.085,1) rotate(-90)" font-size="15.5" text-anchor="middle" font-family='"Liberation Sans", sans-serif'><tspan font-family='"Liberation Serif", serif' font-size="15.5" font-style="italic">V</tspan><tspan font-size="12.5" dy="3">min</tspan><tspan dy="-3">(mm/min)</tspan></text>
<rect x="354" y="206.1" width="243.6" height="156.8" fill="none" stroke="#151515" stroke-width="1.45"/>
<line x1="391.5" y1="362.9" x2="391.5" y2="357.9" stroke="#151515" stroke-width="1.305" />
<line x1="391.5" y1="206.1" x2="391.5" y2="211.1" stroke="#151515" stroke-width="1.305" />
<line x1="429" y1="362.9" x2="429" y2="357.9" stroke="#151515" stroke-width="1.305" />
<line x1="429" y1="206.1" x2="429" y2="211.1" stroke="#151515" stroke-width="1.305" />
<line x1="466.5" y1="362.9" x2="466.5" y2="357.9" stroke="#151515" stroke-width="1.305" />
<line x1="466.5" y1="206.1" x2="466.5" y2="211.1" stroke="#151515" stroke-width="1.305" />
<line x1="504" y1="362.9" x2="504" y2="357.9" stroke="#151515" stroke-width="1.305" />
<line x1="504" y1="206.1" x2="504" y2="211.1" stroke="#151515" stroke-width="1.305" />
<line x1="541.5" y1="362.9" x2="541.5" y2="357.9" stroke="#151515" stroke-width="1.305" />
<line x1="541.5" y1="206.1" x2="541.5" y2="211.1" stroke="#151515" stroke-width="1.305" />
<line x1="579" y1="362.9" x2="579" y2="357.9" stroke="#151515" stroke-width="1.305" />
<line x1="579" y1="206.1" x2="579" y2="211.1" stroke="#151515" stroke-width="1.305" />
<line x1="354" y1="334.4" x2="359" y2="334.4" stroke="#151515" stroke-width="1.305" />
<line x1="597.6" y1="334.4" x2="592.6" y2="334.4" stroke="#151515" stroke-width="1.305" />
<line x1="354" y1="305.9" x2="359" y2="305.9" stroke="#151515" stroke-width="1.305" />
<line x1="597.6" y1="305.9" x2="592.6" y2="305.9" stroke="#151515" stroke-width="1.305" />
<line x1="354" y1="277.4" x2="359" y2="277.4" stroke="#151515" stroke-width="1.305" />
<line x1="597.6" y1="277.4" x2="592.6" y2="277.4" stroke="#151515" stroke-width="1.305" />
<line x1="354" y1="248.9" x2="359" y2="248.9" stroke="#151515" stroke-width="1.305" />
<line x1="597.6" y1="248.9" x2="592.6" y2="248.9" stroke="#151515" stroke-width="1.305" />
<line x1="354" y1="220.4" x2="359" y2="220.4" stroke="#151515" stroke-width="1.305" />
<line x1="597.6" y1="220.4" x2="592.6" y2="220.4" stroke="#151515" stroke-width="1.305" />
<text transform="translate(355.4,378) scale(1.0,1)" font-size="12" text-anchor="middle" font-family='"Liberation Sans", sans-serif'>0</text>
<text transform="translate(392.9,378) scale(1.0,1)" font-size="12" text-anchor="middle" font-family='"Liberation Sans", sans-serif'>1</text>
<text transform="translate(430.4,378) scale(1.0,1)" font-size="12" text-anchor="middle" font-family='"Liberation Sans", sans-serif'>2</text>
<text transform="translate(467.9,378) scale(1.0,1)" font-size="12" text-anchor="middle" font-family='"Liberation Sans", sans-serif'>3</text>
<text transform="translate(505.4,378) scale(1.0,1)" font-size="12" text-anchor="middle" font-family='"Liberation Sans", sans-serif'>4</text>
<text transform="translate(542.9,378) scale(1.0,1)" font-size="12" text-anchor="middle" font-family='"Liberation Sans", sans-serif'>5</text>
<text transform="translate(580.4,378) scale(1.0,1)" font-size="12" text-anchor="middle" font-family='"Liberation Sans", sans-serif'>6</text>
<text transform="translate(348.6,367.2) scale(1.0,1)" font-size="12" text-anchor="end" font-family='"Liberation Sans", sans-serif'>0</text>
<text transform="translate(348.6,338.7) scale(1.0,1)" font-size="12" text-anchor="end" font-family='"Liberation Sans", sans-serif'>2</text>
<text transform="translate(348.6,310.2) scale(1.0,1)" font-size="12" text-anchor="end" font-family='"Liberation Sans", sans-serif'>4</text>
<text transform="translate(348.6,281.7) scale(1.0,1)" font-size="12" text-anchor="end" font-family='"Liberation Sans", sans-serif'>6</text>
<text transform="translate(348.6,253.2) scale(1.0,1)" font-size="12" text-anchor="end" font-family='"Liberation Sans", sans-serif'>8</text>
<text transform="translate(348.6,224.7) scale(1.0,1)" font-size="12" text-anchor="end" font-family='"Liberation Sans", sans-serif'>10</text>
<path d="M361.12,303.76 L365.25,283.81 L369,266.71 L372.75,256.74 L380.25,246.05 L384,245.05 L391.5,244.34 L410.25,249.75 L429,257.16 L447.75,263.15 L466.5,268 L485.25,273.55 L504,278.4 L541.5,284.95 L579,290.65" fill="none" stroke="#222" stroke-width="1.2" stroke-linejoin="round"/>
<circle cx="361.12" cy="303.76" r="2.3" fill="red"/>
<circle cx="365.06" cy="286.09" r="2.3" fill="red"/>
<circle cx="369" cy="278.54" r="2.3" fill="red"/>
<circle cx="372.38" cy="266" r="2.3" fill="red"/>
<circle cx="380.25" cy="245.19" r="2.3" fill="red"/>
<circle cx="384" cy="228.95" r="2.3" fill="red"/>
<circle cx="391.5" cy="221.82" r="2.3" fill="red"/>
<circle cx="410.25" cy="228.95" r="2.3" fill="red"/>
<circle cx="429" cy="244.2" r="2.3" fill="red"/>
<circle cx="447.75" cy="252.46" r="2.3" fill="red"/>
<circle cx="466.5" cy="257.45" r="2.3" fill="red"/>
<circle cx="485.25" cy="265.14" r="2.3" fill="red"/>
<circle cx="504" cy="272.7" r="2.3" fill="red"/>
<circle cx="541.5" cy="280.25" r="2.3" fill="red"/>
<circle cx="579" cy="285.95" r="2.3" fill="red"/>
<text transform="translate(560.2,228.8) scale(1.085,1)" font-size="15.3" text-anchor="start" font-family='"Liberation Sans", sans-serif'>(d)</text>
<text transform="translate(433,397.2) scale(1.0,1)" font-size="16" text-anchor="start" font-family='"Liberation Sans", sans-serif'><tspan font-family='"Liberation Serif", serif' font-size="18" font-style="italic">V</tspan><tspan font-family='"Liberation Serif", serif' font-size="13.5" font-style="italic" dy="3.5">f</tspan><tspan dy="-3.5"> (mm/min)</tspan></text>
<text transform="translate(317.9,284.6) scale(1.085,1) rotate(-90)" font-size="15" text-anchor="middle" font-family='"Liberation Sans", sans-serif'><tspan font-family='"Liberation Serif", serif' font-size="17.5" font-style="italic">k</tspan><tspan font-size="12.5" dy="3">max</tspan></text>
</svg>
</body></html>
